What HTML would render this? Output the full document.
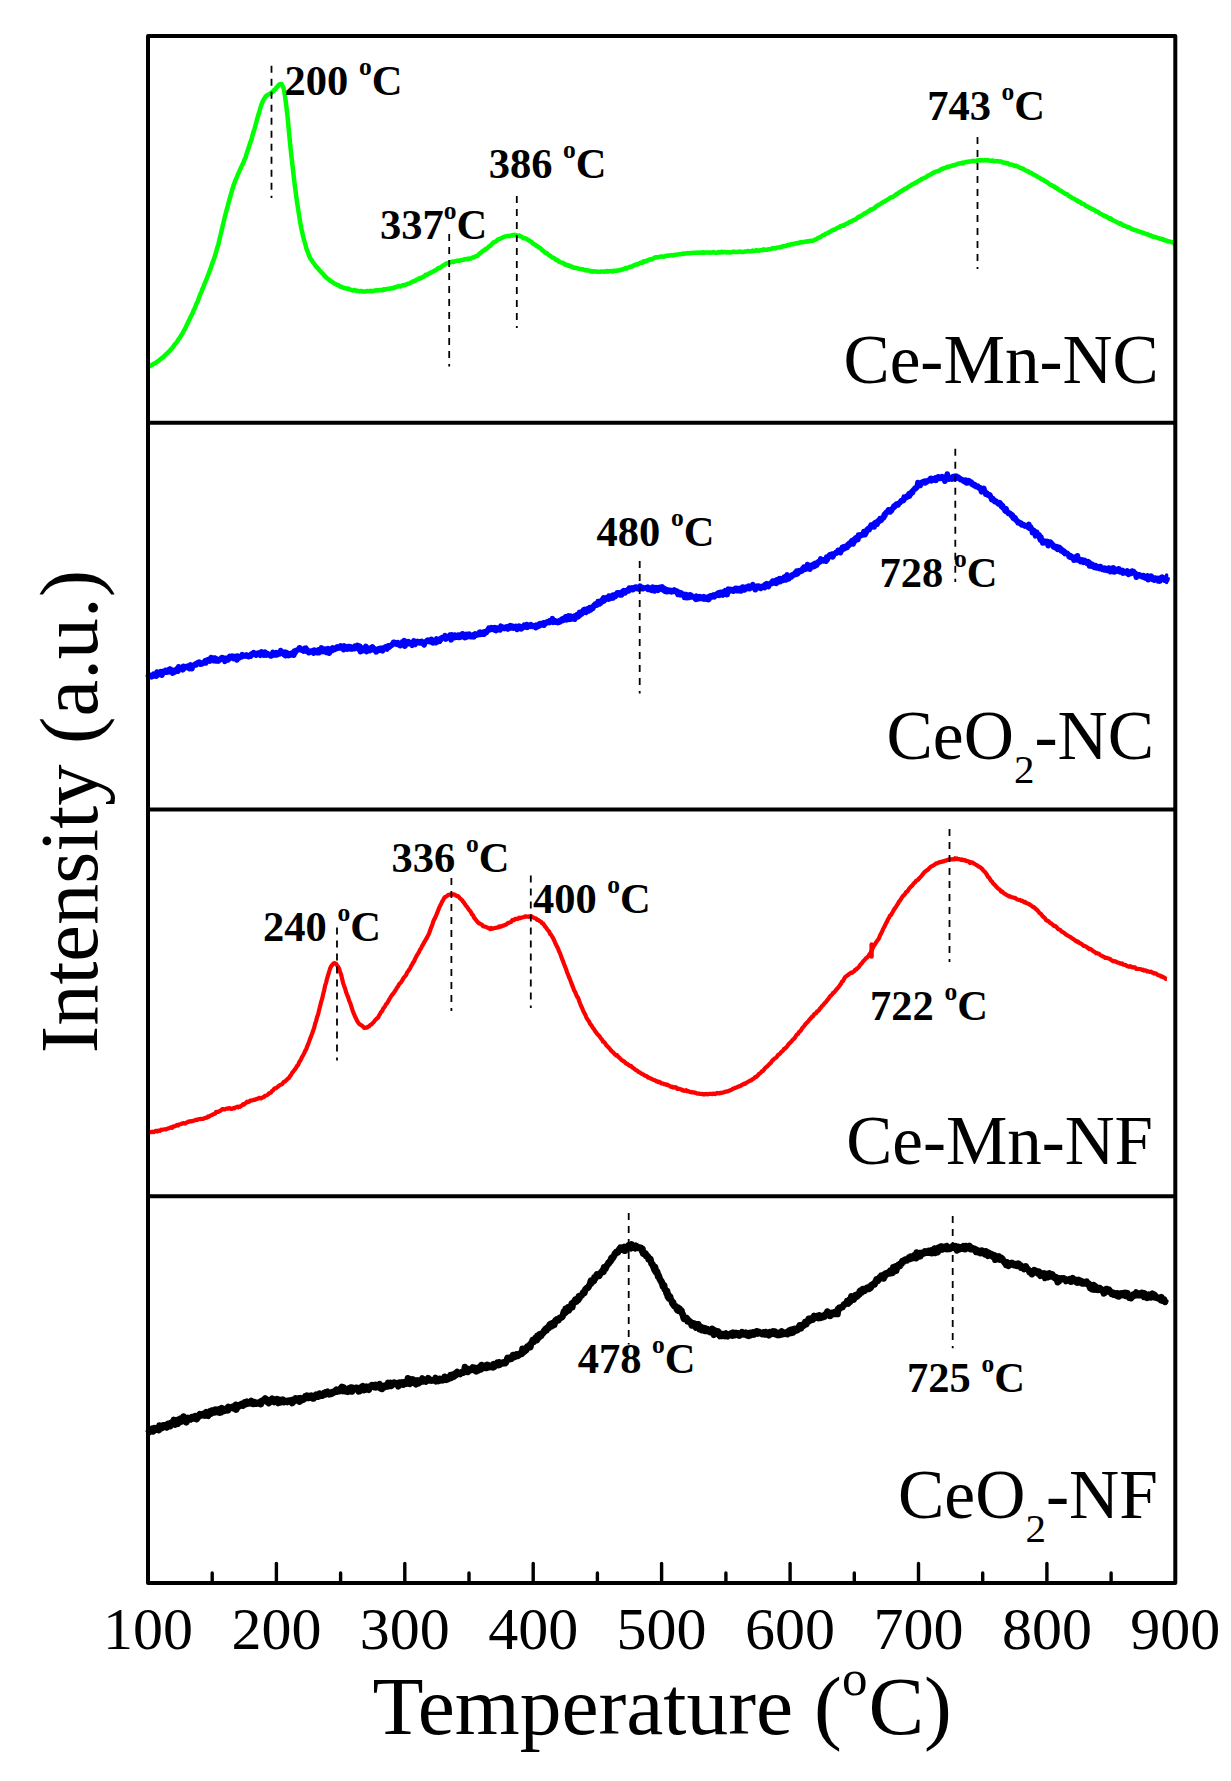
<!DOCTYPE html>
<html lang="en"><head><meta charset="utf-8"><title>H2-TPR profiles</title>
<style>html,body{margin:0;padding:0;background:#fff}body{width:1231px;height:1781px;overflow:hidden}svg{display:block}text{font-family:"Liberation Serif","Times New Roman",serif;fill:#000}.pk{font-weight:bold;font-size:42.5px}.big{font-size:69.5px}.tk{font-size:60px;text-anchor:middle}.ttl{font-size:83.5px}.d{stroke:#000;stroke-width:1.8;stroke-dasharray:7 6;fill:none}.c{fill:none;stroke-linejoin:round;stroke-linecap:butt}</style></head><body>
<svg width="1231" height="1781" viewBox="0 0 1231 1781">
<rect width="1231" height="1781" fill="#fff"/>
<polyline class="c" stroke="#00ff00" stroke-width="4.5" points="148.5,366.6 149.5,366.3 150.5,365.7 151.5,365.0 152.5,364.6 153.5,363.9 154.5,363.5 155.5,363.2 156.5,362.1 157.5,361.4 158.5,360.9 159.5,360.1 160.5,359.3 161.5,358.3 162.5,357.7 163.5,357.0 164.5,355.7 165.5,355.0 166.5,353.7 167.5,352.9 168.5,351.8 169.5,351.1 170.5,349.7 171.5,349.0 172.5,347.7 173.5,346.4 174.5,344.6 175.5,343.8 176.5,342.5 177.5,341.2 178.5,339.3 179.5,338.1 180.5,336.5 181.5,334.8 182.5,333.6 183.5,331.3 184.5,329.6 185.5,327.9 186.5,325.5 187.5,323.6 188.5,321.6 189.5,319.5 190.5,317.1 191.5,315.3 192.5,313.4 193.5,310.5 194.5,308.8 195.5,306.2 196.5,303.6 197.5,301.9 198.5,299.1 199.5,296.1 200.5,293.9 201.5,291.6 202.5,288.9 203.5,286.6 204.5,284.0 205.5,281.7 206.5,279.4 207.5,276.4 208.5,274.1 209.5,271.3 210.5,268.8 211.5,265.6 212.5,262.9 213.5,260.1 214.5,257.3 215.5,254.2 216.5,250.3 217.5,247.0 218.5,243.8 219.5,239.1 220.5,235.2 221.5,230.9 222.5,226.8 223.5,222.5 224.5,218.2 225.5,214.3 226.5,210.5 227.5,207.2 228.5,203.0 229.5,199.4 230.5,196.0 231.5,192.3 232.5,188.9 233.5,185.5 234.5,182.8 235.5,180.1 236.5,178.0 237.5,175.5 238.5,173.1 239.5,170.9 240.5,168.5 241.5,166.7 242.5,164.4 243.5,162.4 244.5,159.6 245.5,157.5 246.5,154.1 247.5,151.0 248.5,148.3 249.5,145.0 250.5,142.1 251.5,139.4 252.5,135.3 253.5,132.0 254.5,128.8 255.5,125.3 256.5,121.5 257.5,117.8 258.5,114.5 259.5,111.2 260.5,107.5 261.5,104.6 262.5,102.0 263.5,99.7 264.5,98.3 265.5,96.5 266.5,95.9 267.5,94.9 268.5,94.4 269.5,93.8 270.5,93.5 271.5,92.4 272.5,91.8 273.5,91.2 274.5,89.5 275.5,89.1 276.5,87.4 277.5,86.7 278.5,85.1 279.5,84.5 280.5,84.0 281.5,84.1 282.5,86.0 283.5,87.9 284.5,92.9 285.5,99.8 286.5,107.5 287.5,116.2 288.5,126.8 289.5,137.5 290.5,147.6 291.5,156.7 292.5,165.7 293.5,174.2 294.5,183.1 295.5,190.5 296.5,198.2 297.5,205.0 298.5,211.5 299.5,218.0 300.5,223.9 301.5,229.2 302.5,233.8 303.5,238.0 304.5,241.5 305.5,245.0 306.5,248.9 307.5,251.4 308.5,254.0 309.5,256.7 310.5,258.9 311.5,259.9 312.5,261.7 313.5,263.0 314.5,264.0 315.5,265.8 316.5,266.8 317.5,268.0 318.5,268.9 319.5,270.4 320.5,271.3 321.5,272.5 322.5,273.4 323.5,274.4 324.5,276.1 325.5,276.6 326.5,277.8 327.5,278.6 328.5,279.3 329.5,280.1 330.5,281.0 331.5,281.5 332.5,282.1 333.5,282.8 334.5,283.7 335.5,284.1 336.5,284.6 337.5,284.9 338.5,285.2 339.5,286.2 340.5,286.7 341.5,286.8 342.5,287.3 343.5,287.7 344.5,288.1 345.5,288.4 346.5,288.3 347.5,289.0 348.5,288.6 349.5,289.4 350.5,289.6 351.5,289.9 352.5,290.4 353.5,290.5 354.5,290.1 355.5,290.2 356.5,291.0 357.5,290.7 358.5,291.1 359.5,291.4 360.5,290.9 361.5,290.9 362.5,291.5 363.5,291.5 364.5,291.4 365.5,291.5 366.5,291.2 367.5,291.0 368.5,291.3 369.5,291.1 370.5,290.8 371.5,291.3 372.5,291.0 373.5,291.0 374.5,290.6 375.5,290.5 376.5,290.3 377.5,290.2 378.5,290.4 379.5,290.0 380.5,290.1 381.5,290.0 382.5,290.3 383.5,289.3 384.5,289.7 385.5,289.3 386.5,289.2 387.5,288.7 388.5,288.7 389.5,288.9 390.5,288.5 391.5,288.3 392.5,288.0 393.5,288.2 394.5,287.6 395.5,286.9 396.5,287.0 397.5,286.4 398.5,285.9 399.5,286.3 400.5,286.5 401.5,285.9 402.5,285.3 403.5,285.1 404.5,285.3 405.5,284.7 406.5,284.3 407.5,283.9 408.5,283.6 409.5,283.3 410.5,282.9 411.5,282.3 412.5,281.6 413.5,281.5 414.5,280.7 415.5,280.7 416.5,279.6 417.5,279.4 418.5,279.0 419.5,278.1 420.5,278.4 421.5,277.8 422.5,276.9 423.5,276.7 424.5,276.1 425.5,274.8 426.5,275.0 427.5,274.4 428.5,273.9 429.5,273.1 430.5,272.8 431.5,272.2 432.5,272.0 433.5,271.3 434.5,270.6 435.5,270.5 436.5,269.4 437.5,268.9 438.5,267.9 439.5,268.1 440.5,267.4 441.5,266.7 442.5,266.0 443.5,265.3 444.5,264.7 445.5,264.1 446.5,263.6 447.5,263.2 448.5,263.2 449.5,262.7 450.5,262.2 451.5,261.9 452.5,261.6 453.5,262.0 454.5,261.5 455.5,261.2 456.5,260.9 457.5,260.6 458.5,260.7 459.5,260.7 460.5,260.2 461.5,260.1 462.5,259.9 463.5,259.8 464.5,259.1 465.5,259.3 466.5,258.9 467.5,259.2 468.5,258.6 469.5,258.7 470.5,258.7 471.5,258.0 472.5,257.6 473.5,257.5 474.5,257.0 475.5,256.3 476.5,256.1 477.5,255.8 478.5,254.6 479.5,253.8 480.5,252.8 481.5,252.4 482.5,251.2 483.5,250.4 484.5,250.3 485.5,249.0 486.5,248.7 487.5,248.1 488.5,246.9 489.5,246.2 490.5,245.7 491.5,244.3 492.5,243.4 493.5,242.4 494.5,242.0 495.5,241.7 496.5,240.9 497.5,239.8 498.5,239.3 499.5,238.9 500.5,238.6 501.5,238.0 502.5,237.6 503.5,237.2 504.5,236.6 505.5,236.4 506.5,236.2 507.5,235.9 508.5,235.9 509.5,236.2 510.5,235.7 511.5,235.5 512.5,235.0 513.5,235.5 514.5,234.8 515.5,234.9 516.5,235.5 517.5,235.6 518.5,235.7 519.5,235.6 520.5,236.3 521.5,236.6 522.5,237.4 523.5,238.3 524.5,238.2 525.5,238.4 526.5,238.8 527.5,239.7 528.5,240.2 529.5,240.6 530.5,241.6 531.5,241.9 532.5,243.2 533.5,243.8 534.5,244.5 535.5,244.8 536.5,245.8 537.5,246.4 538.5,247.1 539.5,247.9 540.5,248.5 541.5,249.2 542.5,250.6 543.5,251.1 544.5,252.0 545.5,252.9 546.5,252.9 547.5,253.9 548.5,254.8 549.5,255.5 550.5,256.0 551.5,257.0 552.5,257.5 553.5,257.8 554.5,258.4 555.5,259.5 556.5,260.0 557.5,260.0 558.5,261.3 559.5,261.7 560.5,262.3 561.5,262.4 562.5,262.9 563.5,263.2 564.5,264.5 565.5,264.3 566.5,265.2 567.5,265.1 568.5,265.7 569.5,265.6 570.5,266.3 571.5,267.0 572.5,266.8 573.5,267.7 574.5,267.8 575.5,267.7 576.5,268.1 577.5,268.3 578.5,268.7 579.5,268.8 580.5,268.9 581.5,269.3 582.5,269.3 583.5,269.5 584.5,270.0 585.5,270.4 586.5,270.0 587.5,270.6 588.5,270.6 589.5,270.7 590.5,271.3 591.5,271.1 592.5,271.7 593.5,271.2 594.5,271.6 595.5,271.5 596.5,271.5 597.5,271.8 598.5,271.7 599.5,271.8 600.5,271.7 601.5,271.4 602.5,271.6 603.5,271.6 604.5,271.8 605.5,271.3 606.5,271.5 607.5,271.0 608.5,271.6 609.5,271.1 610.5,270.9 611.5,271.2 612.5,271.5 613.5,270.7 614.5,270.8 615.5,270.8 616.5,270.6 617.5,270.8 618.5,270.3 619.5,270.1 620.5,270.2 621.5,269.5 622.5,269.5 623.5,268.9 624.5,268.5 625.5,268.0 626.5,268.6 627.5,267.7 628.5,267.5 629.5,267.0 630.5,266.8 631.5,266.4 632.5,266.6 633.5,265.5 634.5,265.0 635.5,264.8 636.5,264.3 637.5,264.5 638.5,264.1 639.5,263.3 640.5,262.8 641.5,262.7 642.5,262.8 643.5,261.3 644.5,261.8 645.5,261.0 646.5,261.2 647.5,260.3 648.5,260.2 649.5,259.5 650.5,259.3 651.5,259.5 652.5,259.0 653.5,258.3 654.5,257.9 655.5,257.3 656.5,257.5 657.5,257.3 658.5,257.1 659.5,256.9 660.5,256.5 661.5,256.6 662.5,256.5 663.5,256.7 664.5,256.7 665.5,256.0 666.5,255.7 667.5,255.8 668.5,255.5 669.5,255.4 670.5,255.4 671.5,255.1 672.5,255.4 673.5,255.1 674.5,255.0 675.5,254.8 676.5,254.6 677.5,254.4 678.5,254.4 679.5,254.2 680.5,254.3 681.5,254.1 682.5,253.6 683.5,253.9 684.5,253.4 685.5,253.5 686.5,253.4 687.5,252.9 688.5,253.3 689.5,253.3 690.5,253.1 691.5,253.0 692.5,252.9 693.5,252.7 694.5,252.8 695.5,252.7 696.5,252.8 697.5,252.5 698.5,252.8 699.5,252.7 700.5,252.6 701.5,252.5 702.5,252.8 703.5,252.2 704.5,252.7 705.5,252.6 706.5,252.6 707.5,252.6 708.5,252.4 709.5,252.5 710.5,252.7 711.5,252.6 712.5,252.5 713.5,252.1 714.5,252.6 715.5,252.7 716.5,252.7 717.5,252.5 718.5,252.0 719.5,252.6 720.5,252.3 721.5,251.7 722.5,252.4 723.5,251.9 724.5,252.0 725.5,252.1 726.5,252.6 727.5,252.1 728.5,252.3 729.5,252.6 730.5,252.5 731.5,252.1 732.5,252.0 733.5,251.7 734.5,251.8 735.5,252.1 736.5,252.0 737.5,251.9 738.5,252.1 739.5,251.6 740.5,251.7 741.5,251.9 742.5,251.8 743.5,251.9 744.5,251.7 745.5,251.4 746.5,251.5 747.5,251.1 748.5,250.9 749.5,251.4 750.5,251.2 751.5,251.2 752.5,250.6 753.5,250.9 754.5,250.8 755.5,250.6 756.5,250.2 757.5,250.6 758.5,250.8 759.5,250.5 760.5,250.2 761.5,250.2 762.5,250.3 763.5,249.2 764.5,249.7 765.5,249.8 766.5,249.6 767.5,249.7 768.5,249.4 769.5,249.1 770.5,248.9 771.5,248.8 772.5,248.3 773.5,248.3 774.5,248.3 775.5,248.4 776.5,247.7 777.5,247.6 778.5,247.4 779.5,247.5 780.5,247.0 781.5,247.1 782.5,246.3 783.5,246.3 784.5,246.0 785.5,246.0 786.5,245.8 787.5,244.9 788.5,244.8 789.5,244.9 790.5,244.4 791.5,243.9 792.5,244.3 793.5,244.0 794.5,243.7 795.5,243.3 796.5,243.4 797.5,242.9 798.5,243.1 799.5,242.4 800.5,242.3 801.5,242.4 802.5,242.0 803.5,242.2 804.5,241.9 805.5,241.5 806.5,241.6 807.5,241.3 808.5,241.4 809.5,240.9 810.5,240.7 811.5,240.9 812.5,240.9 813.5,240.6 814.5,239.8 815.5,239.4 816.5,239.3 817.5,238.4 818.5,237.7 819.5,237.5 820.5,237.0 821.5,236.2 822.5,235.4 823.5,234.9 824.5,234.8 825.5,233.9 826.5,233.5 827.5,233.0 828.5,232.6 829.5,231.9 830.5,231.6 831.5,230.7 832.5,230.4 833.5,229.7 834.5,229.8 835.5,229.0 836.5,228.3 837.5,227.9 838.5,227.5 839.5,227.2 840.5,226.2 841.5,225.8 842.5,225.5 843.5,225.7 844.5,224.9 845.5,224.1 846.5,223.8 847.5,223.6 848.5,222.6 849.5,222.0 850.5,221.9 851.5,221.2 852.5,220.7 853.5,219.9 854.5,220.0 855.5,219.4 856.5,218.5 857.5,218.0 858.5,216.8 859.5,216.8 860.5,216.1 861.5,215.6 862.5,215.1 863.5,214.3 864.5,213.3 865.5,213.3 866.5,212.4 867.5,211.9 868.5,211.2 869.5,210.7 870.5,209.6 871.5,209.8 872.5,209.0 873.5,208.6 874.5,208.2 875.5,207.1 876.5,206.0 877.5,205.6 878.5,204.9 879.5,204.5 880.5,204.0 881.5,202.9 882.5,202.8 883.5,201.7 884.5,201.6 885.5,200.9 886.5,200.2 887.5,199.7 888.5,199.0 889.5,198.3 890.5,197.5 891.5,197.3 892.5,197.1 893.5,196.5 894.5,195.8 895.5,195.0 896.5,194.0 897.5,193.9 898.5,192.9 899.5,192.3 900.5,191.6 901.5,191.1 902.5,190.4 903.5,189.8 904.5,189.0 905.5,188.5 906.5,188.6 907.5,187.4 908.5,186.8 909.5,186.3 910.5,185.8 911.5,184.7 912.5,184.4 913.5,184.1 914.5,183.3 915.5,182.7 916.5,182.5 917.5,181.4 918.5,181.0 919.5,180.3 920.5,180.3 921.5,178.9 922.5,178.7 923.5,178.2 924.5,177.9 925.5,177.4 926.5,177.0 927.5,175.7 928.5,175.8 929.5,175.0 930.5,174.4 931.5,174.1 932.5,173.3 933.5,172.5 934.5,172.4 935.5,171.6 936.5,171.4 937.5,171.2 938.5,170.7 939.5,170.6 940.5,169.7 941.5,169.0 942.5,168.8 943.5,168.4 944.5,167.9 945.5,168.0 946.5,167.3 947.5,166.7 948.5,167.0 949.5,166.4 950.5,166.2 951.5,165.8 952.5,165.6 953.5,165.2 954.5,165.2 955.5,164.7 956.5,164.4 957.5,164.1 958.5,163.4 959.5,163.5 960.5,163.3 961.5,163.2 962.5,162.6 963.5,163.2 964.5,162.6 965.5,162.1 966.5,161.8 967.5,161.9 968.5,161.8 969.5,161.5 970.5,161.5 971.5,161.2 972.5,161.3 973.5,160.8 974.5,160.9 975.5,161.0 976.5,161.3 977.5,160.3 978.5,160.4 979.5,160.2 980.5,160.6 981.5,160.1 982.5,160.3 983.5,160.4 984.5,160.2 985.5,160.2 986.5,160.4 987.5,160.0 988.5,160.3 989.5,160.6 990.5,160.8 991.5,160.8 992.5,160.5 993.5,160.9 994.5,161.3 995.5,161.3 996.5,161.2 997.5,161.1 998.5,161.6 999.5,161.4 1000.5,161.4 1001.5,161.7 1002.5,162.4 1003.5,162.4 1004.5,162.8 1005.5,162.7 1006.5,163.3 1007.5,163.2 1008.5,163.6 1009.5,164.5 1010.5,164.4 1011.5,164.4 1012.5,164.9 1013.5,165.3 1014.5,165.9 1015.5,165.8 1016.5,165.8 1017.5,166.5 1018.5,167.0 1019.5,167.4 1020.5,168.1 1021.5,168.2 1022.5,168.8 1023.5,168.8 1024.5,169.8 1025.5,170.6 1026.5,170.7 1027.5,171.1 1028.5,171.6 1029.5,172.6 1030.5,172.5 1031.5,173.2 1032.5,173.9 1033.5,174.6 1034.5,174.9 1035.5,175.6 1036.5,176.1 1037.5,176.8 1038.5,177.3 1039.5,177.6 1040.5,178.5 1041.5,179.3 1042.5,179.4 1043.5,180.1 1044.5,180.9 1045.5,181.1 1046.5,182.0 1047.5,182.3 1048.5,183.4 1049.5,184.3 1050.5,184.8 1051.5,184.9 1052.5,185.8 1053.5,186.2 1054.5,186.8 1055.5,187.8 1056.5,187.7 1057.5,189.0 1058.5,189.3 1059.5,190.3 1060.5,190.7 1061.5,191.1 1062.5,191.9 1063.5,192.7 1064.5,193.1 1065.5,193.9 1066.5,194.2 1067.5,194.5 1068.5,195.8 1069.5,196.4 1070.5,196.8 1071.5,197.4 1072.5,198.2 1073.5,198.5 1074.5,199.0 1075.5,199.7 1076.5,200.6 1077.5,200.5 1078.5,201.7 1079.5,201.8 1080.5,202.3 1081.5,203.5 1082.5,203.7 1083.5,203.9 1084.5,204.7 1085.5,205.6 1086.5,206.2 1087.5,206.4 1088.5,207.1 1089.5,207.8 1090.5,208.0 1091.5,208.8 1092.5,209.2 1093.5,209.6 1094.5,210.2 1095.5,210.9 1096.5,211.4 1097.5,211.8 1098.5,212.3 1099.5,213.3 1100.5,213.6 1101.5,214.3 1102.5,214.9 1103.5,215.2 1104.5,216.2 1105.5,215.9 1106.5,216.9 1107.5,217.1 1108.5,218.2 1109.5,218.7 1110.5,218.3 1111.5,219.1 1112.5,220.0 1113.5,220.6 1114.5,221.1 1115.5,221.4 1116.5,222.0 1117.5,222.6 1118.5,222.9 1119.5,223.7 1120.5,223.3 1121.5,224.5 1122.5,224.6 1123.5,225.6 1124.5,225.7 1125.5,226.0 1126.5,226.8 1127.5,226.9 1128.5,227.3 1129.5,227.5 1130.5,228.3 1131.5,228.8 1132.5,229.4 1133.5,229.4 1134.5,230.1 1135.5,230.2 1136.5,230.6 1137.5,231.1 1138.5,231.6 1139.5,231.6 1140.5,231.9 1141.5,232.3 1142.5,232.7 1143.5,232.8 1144.5,233.6 1145.5,233.6 1146.5,234.2 1147.5,234.2 1148.5,234.8 1149.5,235.2 1150.5,235.3 1151.5,236.3 1152.5,236.2 1153.5,236.9 1154.5,237.1 1155.5,237.0 1156.5,237.4 1157.5,237.9 1158.5,238.2 1159.5,238.5 1160.5,238.8 1161.5,238.7 1162.5,239.5 1163.5,239.3 1164.5,240.3 1165.5,240.3 1166.5,240.7 1167.5,241.1 1168.5,241.6 1169.5,241.5 1170.5,241.7 1171.5,242.2 1172.5,242.3 1173.5,242.9 1174.5,243.8 1175.0,243.3"/>
<polyline class="c" stroke="#0000ff" stroke-width="5.6" points="148.1,677.1 148.7,674.7 149.3,676.3 149.9,675.5 150.5,675.4 151.1,675.6 151.7,676.8 152.3,675.1 152.9,674.9 153.5,674.2 154.1,675.9 154.7,674.9 155.3,675.8 155.9,674.7 156.5,676.2 157.1,672.0 157.7,673.5 158.3,674.7 158.9,673.2 159.5,672.6 160.1,673.0 160.7,671.7 161.3,672.9 161.9,675.2 162.5,673.7 163.1,671.2 163.7,671.2 164.3,671.2 164.9,672.3 165.5,670.3 166.1,670.4 166.7,672.1 167.3,672.1 167.9,670.8 168.5,669.9 169.1,669.4 169.7,670.6 170.3,669.0 170.9,672.0 171.5,670.7 172.1,672.0 172.7,673.1 173.3,672.6 173.9,670.3 174.5,672.1 175.1,671.9 175.7,670.1 176.3,669.5 176.9,670.0 177.5,668.3 178.1,671.2 178.7,666.7 179.3,668.0 179.9,668.8 180.5,668.9 181.1,668.9 181.7,669.0 182.3,668.5 182.9,669.8 183.5,666.3 184.1,668.5 184.7,667.4 185.3,667.7 185.9,667.4 186.5,666.5 187.1,666.3 187.7,667.4 188.3,666.7 188.9,665.9 189.5,668.6 190.1,668.6 190.7,664.9 191.3,666.8 191.9,668.6 192.5,666.7 193.1,666.2 193.7,665.7 194.3,664.9 194.9,664.5 195.5,663.9 196.1,664.9 196.7,663.4 197.3,663.4 197.9,662.6 198.5,663.3 199.1,662.1 199.7,662.7 200.3,664.1 200.9,663.4 201.5,664.0 202.1,663.8 202.7,663.1 203.3,662.6 203.9,662.3 204.5,662.8 205.1,660.8 205.7,663.0 206.3,661.7 206.9,660.2 207.5,660.0 208.1,659.6 208.7,660.2 209.3,659.2 209.9,661.1 210.5,659.3 211.1,657.7 211.7,659.1 212.3,657.8 212.9,659.7 213.5,660.6 214.1,660.0 214.7,658.0 215.3,658.7 215.9,661.0 216.5,659.7 217.1,659.1 217.7,659.9 218.3,661.1 218.9,660.4 219.5,659.5 220.1,659.5 220.7,659.4 221.3,658.2 221.9,657.6 222.5,658.6 223.1,657.9 223.7,658.9 224.3,658.9 224.9,661.3 225.5,658.3 226.1,659.0 226.7,659.0 227.3,659.3 227.9,659.9 228.5,657.7 229.1,657.5 229.7,656.3 230.3,656.9 230.9,658.0 231.5,657.3 232.1,656.1 232.7,656.9 233.3,657.5 233.9,658.6 234.5,657.3 235.1,658.1 235.7,656.3 236.3,657.1 236.9,660.0 237.5,656.1 238.1,657.9 238.7,658.2 239.3,657.3 239.9,656.7 240.5,657.1 241.1,657.0 241.7,656.8 242.3,654.6 242.9,656.2 243.5,655.6 244.1,655.3 244.7,655.8 245.3,656.1 245.9,656.0 246.5,655.0 247.1,655.7 247.7,656.4 248.3,656.6 248.9,656.6 249.5,655.3 250.1,655.3 250.7,656.0 251.3,654.1 251.9,654.9 252.5,654.5 253.1,654.5 253.7,652.7 254.3,653.3 254.9,654.2 255.5,654.7 256.1,655.1 256.7,653.9 257.3,653.7 257.9,653.1 258.5,654.0 259.1,653.4 259.7,654.3 260.3,655.2 260.9,653.8 261.5,652.0 262.1,652.7 262.7,652.3 263.3,652.7 263.9,655.2 264.5,654.1 265.1,652.1 265.7,654.5 266.3,655.1 266.9,653.9 267.5,653.6 268.1,654.0 268.7,654.4 269.3,654.9 269.9,655.5 270.5,655.9 271.1,655.9 271.7,655.8 272.3,654.6 272.9,652.4 273.5,653.8 274.1,654.3 274.7,653.7 275.3,654.9 275.9,653.4 276.5,652.6 277.1,654.8 277.7,654.2 278.3,653.4 278.9,653.9 279.5,654.0 280.1,653.2 280.7,650.5 281.3,652.3 281.9,652.4 282.5,652.2 283.1,653.0 283.7,654.3 284.3,652.8 284.9,652.3 285.5,655.7 286.1,653.3 286.7,652.6 287.3,654.4 287.9,654.6 288.5,653.9 289.1,655.5 289.7,654.0 290.3,653.6 290.9,654.3 291.5,654.7 292.1,653.0 292.7,653.4 293.3,652.5 293.9,655.2 294.5,651.1 295.1,652.8 295.7,650.9 296.3,650.3 296.9,650.4 297.5,649.9 298.1,650.0 298.7,649.2 299.3,647.9 299.9,647.9 300.5,649.3 301.1,649.4 301.7,650.1 302.3,649.4 302.9,650.5 303.5,651.1 304.1,649.8 304.7,648.3 305.3,648.7 305.9,648.3 306.5,651.3 307.1,649.7 307.7,651.8 308.3,651.2 308.9,652.7 309.5,652.3 310.1,651.4 310.7,651.2 311.3,652.0 311.9,652.0 312.5,650.8 313.1,651.4 313.7,653.2 314.3,650.0 314.9,651.9 315.5,650.6 316.1,652.0 316.7,652.5 317.3,651.8 317.9,652.5 318.5,649.9 319.1,652.7 319.7,650.6 320.3,651.6 320.9,651.0 321.5,647.9 322.1,649.6 322.7,650.5 323.3,651.6 323.9,650.6 324.5,650.8 325.1,649.2 325.7,652.0 326.3,652.4 326.9,650.9 327.5,650.4 328.1,648.7 328.7,651.5 329.3,653.2 329.9,650.7 330.5,651.3 331.1,650.4 331.7,648.6 332.3,650.5 332.9,647.9 333.5,648.8 334.1,649.2 334.7,649.4 335.3,649.1 335.9,648.9 336.5,647.5 337.1,647.0 337.7,648.3 338.3,647.6 338.9,646.9 339.5,646.9 340.1,647.8 340.7,646.0 341.3,646.5 341.9,646.7 342.5,647.8 343.1,648.1 343.7,649.6 344.3,645.9 344.9,646.4 345.5,648.2 346.1,647.1 346.7,647.3 347.3,649.1 347.9,647.4 348.5,646.6 349.1,646.5 349.7,648.6 350.3,648.9 350.9,646.9 351.5,647.4 352.1,648.8 352.7,648.9 353.3,647.6 353.9,648.7 354.5,648.7 355.1,646.1 355.7,647.5 356.3,648.1 356.9,647.1 357.5,645.4 358.1,647.3 358.7,648.6 359.3,650.0 359.9,646.2 360.5,651.7 361.1,648.3 361.7,650.6 362.3,650.9 362.9,650.2 363.5,649.2 364.1,648.0 364.7,649.8 365.3,648.3 365.9,646.4 366.5,651.6 367.1,649.5 367.7,650.3 368.3,648.1 368.9,650.5 369.5,650.8 370.1,650.5 370.7,649.0 371.3,647.7 371.9,648.9 372.5,646.9 373.1,648.0 373.7,650.0 374.3,649.0 374.9,649.6 375.5,649.4 376.1,651.9 376.7,651.3 377.3,649.8 377.9,650.9 378.5,648.8 379.1,649.1 379.7,650.3 380.3,648.3 380.9,649.8 381.5,648.5 382.1,649.6 382.7,650.7 383.3,648.1 383.9,648.9 384.5,647.6 385.1,647.1 385.7,646.8 386.3,648.7 386.9,649.0 387.5,647.1 388.1,645.8 388.7,647.4 389.3,645.8 389.9,646.5 390.5,645.8 391.1,645.5 391.7,645.4 392.3,644.1 392.9,643.9 393.5,642.4 394.1,643.2 394.7,642.4 395.3,643.8 395.9,642.9 396.5,643.9 397.1,644.4 397.7,642.7 398.3,643.4 398.9,643.1 399.5,644.9 400.1,645.6 400.7,644.3 401.3,642.8 401.9,644.7 402.5,641.8 403.1,644.9 403.7,642.6 404.3,640.6 404.9,646.1 405.5,645.2 406.1,642.7 406.7,644.0 407.3,643.5 407.9,643.5 408.5,641.7 409.1,642.7 409.7,643.6 410.3,643.4 410.9,644.1 411.5,643.0 412.1,645.3 412.7,642.0 413.3,643.2 413.9,640.9 414.5,641.6 415.1,644.4 415.7,641.8 416.3,643.2 416.9,642.4 417.5,641.4 418.1,642.0 418.7,641.9 419.3,641.8 419.9,643.0 420.5,642.9 421.1,641.6 421.7,641.3 422.3,642.6 422.9,642.3 423.5,643.6 424.1,644.9 424.7,643.1 425.3,642.2 425.9,641.9 426.5,640.9 427.1,640.6 427.7,640.1 428.3,640.7 428.9,640.4 429.5,641.6 430.1,640.6 430.7,640.7 431.3,639.4 431.9,642.3 432.5,641.3 433.1,642.8 433.7,641.5 434.3,642.1 434.9,640.5 435.5,641.1 436.1,642.6 436.7,638.9 437.3,641.2 437.9,641.6 438.5,640.2 439.1,640.6 439.7,641.1 440.3,638.8 440.9,639.5 441.5,638.0 442.1,637.7 442.7,637.5 443.3,637.9 443.9,637.7 444.5,637.6 445.1,635.6 445.7,639.1 446.3,638.2 446.9,637.9 447.5,636.8 448.1,636.8 448.7,637.1 449.3,637.3 449.9,635.2 450.5,637.7 451.1,639.9 451.7,634.9 452.3,637.5 452.9,636.7 453.5,636.4 454.1,637.7 454.7,635.1 455.3,636.3 455.9,637.4 456.5,635.7 457.1,635.5 457.7,635.8 458.3,635.3 458.9,637.5 459.5,635.4 460.1,637.1 460.7,634.9 461.3,636.8 461.9,636.2 462.5,633.8 463.1,636.6 463.7,635.7 464.3,635.9 464.9,637.6 465.5,634.7 466.1,634.5 466.7,637.1 467.3,635.4 467.9,636.6 468.5,635.7 469.1,634.2 469.7,634.9 470.3,636.6 470.9,636.7 471.5,635.7 472.1,635.4 472.7,635.0 473.3,634.7 473.9,636.9 474.5,635.2 475.1,633.8 475.7,634.3 476.3,635.1 476.9,635.1 477.5,634.5 478.1,634.1 478.7,634.5 479.3,632.4 479.9,632.2 480.5,634.3 481.1,632.5 481.7,633.5 482.3,634.1 482.9,633.4 483.5,632.2 484.1,634.2 484.7,632.6 485.3,631.7 485.9,632.7 486.5,632.4 487.1,630.6 487.7,630.8 488.3,630.2 488.9,628.1 489.5,629.9 490.1,629.7 490.7,629.1 491.3,627.6 491.9,629.0 492.5,629.1 493.1,629.3 493.7,628.0 494.3,629.8 494.9,627.7 495.5,628.7 496.1,630.6 496.7,628.2 497.3,628.0 497.9,629.7 498.5,628.3 499.1,628.3 499.7,628.8 500.3,629.8 500.9,626.2 501.5,627.3 502.1,627.3 502.7,627.2 503.3,627.3 503.9,627.4 504.5,628.5 505.1,627.3 505.7,628.1 506.3,628.2 506.9,626.9 507.5,627.5 508.1,629.0 508.7,627.5 509.3,626.2 509.9,626.7 510.5,625.8 511.1,626.7 511.7,627.7 512.3,626.1 512.9,626.8 513.5,628.2 514.1,626.7 514.7,627.4 515.3,626.4 515.9,626.3 516.5,626.8 517.1,629.4 517.7,626.5 518.3,626.4 518.9,626.2 519.5,626.9 520.1,627.6 520.7,626.8 521.3,628.9 521.9,627.0 522.5,627.9 523.1,626.9 523.7,627.3 524.3,625.2 524.9,626.3 525.5,626.6 526.1,626.5 526.7,624.5 527.3,627.3 527.9,626.2 528.5,626.0 529.1,626.1 529.7,626.0 530.3,626.3 530.9,624.7 531.5,625.3 532.1,626.4 532.7,626.4 533.3,625.8 533.9,625.8 534.5,625.6 535.1,626.3 535.7,627.6 536.3,625.1 536.9,627.1 537.5,626.6 538.1,625.0 538.7,626.3 539.3,623.8 539.9,623.6 540.5,623.9 541.1,624.9 541.7,624.7 542.3,624.7 542.9,625.0 543.5,622.8 544.1,625.2 544.7,623.2 545.3,623.3 545.9,623.4 546.5,622.0 547.1,622.0 547.7,621.7 548.3,622.4 548.9,622.5 549.5,622.6 550.1,620.5 550.7,620.8 551.3,620.4 551.9,621.6 552.5,618.7 553.1,622.3 553.7,620.6 554.3,620.6 554.9,621.3 555.5,622.1 556.1,621.2 556.7,621.9 557.3,621.5 557.9,622.6 558.5,622.5 559.1,620.9 559.7,622.1 560.3,621.0 560.9,620.7 561.5,619.5 562.1,619.9 562.7,620.5 563.3,618.6 563.9,620.0 564.5,619.8 565.1,619.8 565.7,616.8 566.3,618.8 566.9,619.7 567.5,618.4 568.1,619.1 568.7,615.9 569.3,619.3 569.9,618.0 570.5,619.2 571.1,616.2 571.7,618.9 572.3,617.7 572.9,618.4 573.5,616.6 574.1,616.9 574.7,619.2 575.3,615.9 575.9,616.0 576.5,616.1 577.1,614.7 577.7,616.9 578.3,616.8 578.9,613.8 579.5,612.5 580.1,615.1 580.7,614.4 581.3,613.4 581.9,613.7 582.5,611.4 583.1,611.4 583.7,609.8 584.3,609.5 584.9,611.5 585.5,609.7 586.1,612.4 586.7,609.9 587.3,608.9 587.9,610.1 588.5,610.9 589.1,609.4 589.7,607.7 590.3,609.3 590.9,609.7 591.5,607.4 592.1,607.0 592.7,608.4 593.3,607.2 593.9,605.2 594.5,605.2 595.1,604.3 595.7,604.9 596.3,604.5 596.9,605.1 597.5,604.4 598.1,601.6 598.7,603.4 599.3,603.9 599.9,603.3 600.5,603.4 601.1,601.1 601.7,600.1 602.3,601.6 602.9,599.2 603.5,597.9 604.1,600.9 604.7,598.8 605.3,599.0 605.9,597.7 606.5,597.8 607.1,598.0 607.7,598.8 608.3,599.0 608.9,596.1 609.5,598.7 610.1,596.4 610.7,596.5 611.3,598.2 611.9,597.2 612.5,595.3 613.1,598.0 613.7,595.2 614.3,596.0 614.9,595.3 615.5,596.3 616.1,594.2 616.7,595.0 617.3,592.9 617.9,594.4 618.5,592.8 619.1,592.7 619.7,594.8 620.3,593.6 620.9,593.1 621.5,595.0 622.1,593.0 622.7,591.4 623.3,592.9 623.9,590.7 624.5,592.9 625.1,592.9 625.7,590.8 626.3,590.7 626.9,591.0 627.5,590.5 628.1,589.3 628.7,590.8 629.3,588.1 629.9,589.8 630.5,589.5 631.1,589.1 631.7,589.4 632.3,588.0 632.9,589.7 633.5,589.0 634.1,588.3 634.7,587.4 635.3,587.2 635.9,588.4 636.5,587.1 637.1,588.0 637.7,588.8 638.3,588.8 638.9,589.1 639.5,587.1 640.1,586.2 640.7,588.5 641.3,587.9 641.9,588.6 642.5,587.5 643.1,588.5 643.7,588.0 644.3,588.0 644.9,587.9 645.5,587.8 646.1,587.9 646.7,588.0 647.3,588.9 647.9,587.1 648.5,589.5 649.1,588.1 649.7,589.3 650.3,588.2 650.9,588.2 651.5,590.3 652.1,587.9 652.7,587.1 653.3,588.0 653.9,588.7 654.5,591.0 655.1,589.1 655.7,589.6 656.3,587.6 656.9,588.8 657.5,589.4 658.1,590.2 658.7,587.6 659.3,589.3 659.9,588.9 660.5,587.5 661.1,588.7 661.7,588.7 662.3,586.9 662.9,589.8 663.5,590.2 664.1,589.3 664.7,588.6 665.3,591.5 665.9,590.5 666.5,591.2 667.1,591.6 667.7,589.9 668.3,591.4 668.9,590.5 669.5,590.6 670.1,590.3 670.7,590.5 671.3,591.9 671.9,590.9 672.5,590.7 673.1,590.6 673.7,591.3 674.3,590.0 674.9,590.8 675.5,591.4 676.1,591.0 676.7,591.6 677.3,591.4 677.9,594.5 678.5,593.7 679.1,593.0 679.7,592.6 680.3,594.9 680.9,593.4 681.5,593.2 682.1,593.9 682.7,594.0 683.3,595.4 683.9,594.7 684.5,597.3 685.1,594.5 685.7,596.1 686.3,594.6 686.9,597.7 687.5,595.6 688.1,596.3 688.7,596.9 689.3,597.3 689.9,594.9 690.5,596.2 691.1,595.3 691.7,596.9 692.3,596.7 692.9,596.8 693.5,596.8 694.1,597.5 694.7,597.3 695.3,598.7 695.9,599.3 696.5,596.2 697.1,598.0 697.7,597.9 698.3,598.7 698.9,596.9 699.5,597.5 700.1,596.6 700.7,598.5 701.3,598.3 701.9,597.7 702.5,598.5 703.1,597.7 703.7,596.7 704.3,599.1 704.9,598.6 705.5,598.1 706.1,599.2 706.7,599.2 707.3,597.2 707.9,597.0 708.5,599.6 709.1,598.9 709.7,596.3 710.3,595.9 710.9,596.3 711.5,596.3 712.1,595.6 712.7,596.8 713.3,595.3 713.9,594.9 714.5,596.8 715.1,595.2 715.7,595.4 716.3,595.4 716.9,595.0 717.5,593.4 718.1,593.9 718.7,593.0 719.3,595.4 719.9,594.3 720.5,592.3 721.1,593.2 721.7,593.9 722.3,593.7 722.9,595.0 723.5,593.8 724.1,591.6 724.7,592.1 725.3,590.7 725.9,592.3 726.5,592.0 727.1,594.6 727.7,591.6 728.3,589.2 728.9,590.5 729.5,591.0 730.1,589.5 730.7,589.4 731.3,589.9 731.9,590.6 732.5,590.2 733.1,589.6 733.7,591.1 734.3,589.9 734.9,589.8 735.5,588.5 736.1,589.2 736.7,590.6 737.3,588.4 737.9,590.0 738.5,590.5 739.1,589.2 739.7,589.8 740.3,588.5 740.9,591.0 741.5,590.4 742.1,589.4 742.7,587.0 743.3,587.3 743.9,589.0 744.5,589.9 745.1,588.1 745.7,589.1 746.3,587.0 746.9,587.5 747.5,587.7 748.1,588.1 748.7,586.1 749.3,588.7 749.9,588.4 750.5,586.2 751.1,585.9 751.7,587.6 752.3,586.8 752.9,584.7 753.5,587.8 754.1,587.1 754.7,586.4 755.3,589.7 755.9,587.4 756.5,586.5 757.1,587.7 757.7,586.1 758.3,586.1 758.9,587.5 759.5,586.4 760.1,586.6 760.7,588.5 761.3,587.8 761.9,587.3 762.5,586.3 763.1,586.5 763.7,587.4 764.3,585.7 764.9,587.6 765.5,584.3 766.1,584.9 766.7,583.8 767.3,585.0 767.9,585.9 768.5,586.5 769.1,584.2 769.7,584.5 770.3,583.7 770.9,583.4 771.5,582.4 772.1,583.3 772.7,581.0 773.3,583.0 773.9,582.8 774.5,581.5 775.1,580.8 775.7,580.4 776.3,583.4 776.9,579.9 777.5,582.4 778.1,581.2 778.7,579.9 779.3,578.7 779.9,581.1 780.5,581.5 781.1,578.7 781.7,578.8 782.3,579.7 782.9,578.9 783.5,580.3 784.1,577.4 784.7,578.4 785.3,576.6 785.9,580.0 786.5,576.7 787.1,575.0 787.7,576.9 788.3,576.8 788.9,578.8 789.5,576.4 790.1,576.3 790.7,576.1 791.3,576.9 791.9,575.1 792.5,575.9 793.1,575.4 793.7,574.1 794.3,574.2 794.9,573.4 795.5,572.4 796.1,574.4 796.7,571.2 797.3,573.8 797.9,573.4 798.5,572.0 799.1,570.6 799.7,570.8 800.3,571.5 800.9,571.3 801.5,570.5 802.1,570.8 802.7,568.5 803.3,568.9 803.9,567.0 804.5,569.5 805.1,568.4 805.7,567.5 806.3,568.9 806.9,568.3 807.5,564.6 808.1,567.8 808.7,566.0 809.3,568.2 809.9,569.1 810.5,566.0 811.1,566.0 811.7,565.3 812.3,565.9 812.9,566.3 813.5,566.5 814.1,564.0 814.7,566.2 815.3,563.3 815.9,564.2 816.5,565.2 817.1,564.4 817.7,562.4 818.3,561.8 818.9,561.3 819.5,561.1 820.1,561.8 820.7,558.9 821.3,560.6 821.9,560.3 822.5,560.1 823.1,559.8 823.7,560.9 824.3,559.8 824.9,560.3 825.5,560.0 826.1,561.2 826.7,557.0 827.3,559.7 827.9,557.7 828.5,557.1 829.1,556.0 829.7,554.8 830.3,555.7 830.9,555.2 831.5,556.3 832.1,554.0 832.7,557.0 833.3,555.6 833.9,554.7 834.5,553.8 835.1,553.4 835.7,552.6 836.3,553.0 836.9,552.9 837.5,552.0 838.1,550.3 838.7,551.4 839.3,550.5 839.9,551.3 840.5,552.6 841.1,551.0 841.7,549.2 842.3,547.5 842.9,547.8 843.5,546.9 844.1,548.9 844.7,546.8 845.3,546.9 845.9,546.1 846.5,546.5 847.1,547.6 847.7,544.8 848.3,544.5 848.9,543.7 849.5,545.1 850.1,542.9 850.7,542.4 851.3,541.4 851.9,540.7 852.5,541.9 853.1,544.0 853.7,539.9 854.3,541.7 854.9,540.0 855.5,538.1 856.1,538.7 856.7,538.3 857.3,537.2 857.9,539.6 858.5,535.0 859.1,536.8 859.7,536.3 860.3,534.9 860.9,535.4 861.5,535.4 862.1,534.6 862.7,534.9 863.3,534.6 863.9,531.6 864.5,534.5 865.1,534.7 865.7,533.3 866.3,532.5 866.9,529.8 867.5,530.2 868.1,528.6 868.7,528.1 869.3,529.6 869.9,527.4 870.5,527.6 871.1,525.0 871.7,526.6 872.3,525.9 872.9,524.8 873.5,524.7 874.1,527.0 874.7,523.1 875.3,522.8 875.9,522.3 876.5,523.9 877.1,524.2 877.7,522.3 878.3,520.8 878.9,520.1 879.5,521.2 880.1,518.6 880.7,520.6 881.3,520.3 881.9,518.3 882.5,517.8 883.1,517.4 883.7,517.8 884.3,514.5 884.9,515.8 885.5,513.5 886.1,512.5 886.7,512.6 887.3,511.7 887.9,510.8 888.5,509.8 889.1,509.8 889.7,511.8 890.3,512.0 890.9,510.6 891.5,510.7 892.1,508.6 892.7,508.4 893.3,508.1 893.9,506.1 894.5,505.6 895.1,506.3 895.7,505.6 896.3,504.1 896.9,505.0 897.5,503.9 898.1,504.8 898.7,503.4 899.3,502.9 899.9,502.7 900.5,501.7 901.1,500.8 901.7,500.5 902.3,500.9 902.9,500.0 903.5,500.4 904.1,497.2 904.7,497.8 905.3,497.5 905.9,497.8 906.5,496.4 907.1,495.9 907.7,496.7 908.3,495.8 908.9,494.0 909.5,496.1 910.1,494.8 910.7,493.0 911.3,493.6 911.9,491.5 912.5,492.8 913.1,490.7 913.7,489.6 914.3,489.4 914.9,488.2 915.5,488.8 916.1,488.0 916.7,487.4 917.3,486.2 917.9,482.5 918.5,485.9 919.1,483.3 919.7,484.9 920.3,485.4 920.9,483.7 921.5,482.4 922.1,482.2 922.7,482.2 923.3,481.5 923.9,481.5 924.5,481.1 925.1,483.0 925.7,481.5 926.3,482.3 926.9,480.9 927.5,481.0 928.1,480.4 928.7,480.8 929.3,480.8 929.9,479.7 930.5,478.6 931.1,478.3 931.7,480.8 932.3,478.8 932.9,478.7 933.5,480.0 934.1,479.6 934.7,479.0 935.3,477.9 935.9,480.4 936.5,478.8 937.1,478.7 937.7,477.8 938.3,476.7 938.9,476.7 939.5,478.3 940.1,478.5 940.7,478.0 941.3,477.2 941.9,476.7 942.5,477.9 943.1,476.9 943.7,479.2 944.3,479.5 944.9,481.2 945.5,479.0 946.1,477.4 946.7,477.2 947.3,474.1 947.9,477.1 948.5,477.8 949.1,479.1 949.7,478.8 950.3,478.6 950.9,478.1 951.5,478.3 952.1,479.1 952.7,476.9 953.3,477.4 953.9,476.4 954.5,478.9 955.1,478.7 955.7,478.3 956.3,476.2 956.9,477.7 957.5,477.3 958.1,478.0 958.7,477.5 959.3,478.3 959.9,478.2 960.5,479.7 961.1,479.5 961.7,479.4 962.3,479.7 962.9,479.7 963.5,481.1 964.1,480.6 964.7,481.6 965.3,481.0 965.9,480.1 966.5,482.9 967.1,480.9 967.7,482.9 968.3,482.7 968.9,480.7 969.5,481.7 970.1,481.9 970.7,482.0 971.3,482.1 971.9,484.2 972.5,483.6 973.1,484.9 973.7,484.6 974.3,485.6 974.9,484.8 975.5,486.0 976.1,486.7 976.7,486.6 977.3,486.5 977.9,486.2 978.5,487.7 979.1,488.0 979.7,488.1 980.3,487.8 980.9,489.6 981.5,491.9 982.1,489.5 982.7,490.3 983.3,490.7 983.9,488.4 984.5,491.7 985.1,491.4 985.7,494.1 986.3,492.9 986.9,493.1 987.5,494.0 988.1,495.2 988.7,494.9 989.3,495.8 989.9,495.0 990.5,496.4 991.1,497.9 991.7,499.6 992.3,498.9 992.9,498.6 993.5,499.9 994.1,500.4 994.7,501.7 995.3,501.6 995.9,501.1 996.5,502.0 997.1,502.6 997.7,503.1 998.3,503.9 998.9,503.4 999.5,502.6 1000.1,504.4 1000.7,503.8 1001.3,506.3 1001.9,507.0 1002.5,505.5 1003.1,507.9 1003.7,508.5 1004.3,508.2 1004.9,510.6 1005.5,511.3 1006.1,508.7 1006.7,511.8 1007.3,511.5 1007.9,512.2 1008.5,513.4 1009.1,512.9 1009.7,513.3 1010.3,513.6 1010.9,514.5 1011.5,515.8 1012.1,514.8 1012.7,515.8 1013.3,518.3 1013.9,518.6 1014.5,519.0 1015.1,517.7 1015.7,519.4 1016.3,520.0 1016.9,521.2 1017.5,521.0 1018.1,522.7 1018.7,521.9 1019.3,522.4 1019.9,523.0 1020.5,523.9 1021.1,523.3 1021.7,524.8 1022.3,524.3 1022.9,524.3 1023.5,524.7 1024.1,525.3 1024.7,526.1 1025.3,526.0 1025.9,525.6 1026.5,525.8 1027.1,525.7 1027.7,527.0 1028.3,526.3 1028.9,524.5 1029.5,528.4 1030.1,527.6 1030.7,527.1 1031.3,528.9 1031.9,529.2 1032.5,532.7 1033.1,531.6 1033.7,530.3 1034.3,533.3 1034.9,533.3 1035.5,535.8 1036.1,533.2 1036.7,532.2 1037.3,534.9 1037.9,535.4 1038.5,536.3 1039.1,534.9 1039.7,538.0 1040.3,539.7 1040.9,536.9 1041.5,540.7 1042.1,539.8 1042.7,542.9 1043.3,541.2 1043.9,541.1 1044.5,542.7 1045.1,542.4 1045.7,541.5 1046.3,543.1 1046.9,542.4 1047.5,541.4 1048.1,545.7 1048.7,543.3 1049.3,543.0 1049.9,544.0 1050.5,542.2 1051.1,542.9 1051.7,544.3 1052.3,544.1 1052.9,545.2 1053.5,546.8 1054.1,545.9 1054.7,547.4 1055.3,547.9 1055.9,546.6 1056.5,547.9 1057.1,546.7 1057.7,549.5 1058.3,548.8 1058.9,548.5 1059.5,547.4 1060.1,549.1 1060.7,548.7 1061.3,550.9 1061.9,550.5 1062.5,550.1 1063.1,551.9 1063.7,552.3 1064.3,551.3 1064.9,553.6 1065.5,552.8 1066.1,553.0 1066.7,553.6 1067.3,553.4 1067.9,554.2 1068.5,554.7 1069.1,556.5 1069.7,557.0 1070.3,555.6 1070.9,557.5 1071.5,556.3 1072.1,557.2 1072.7,557.9 1073.3,557.5 1073.9,560.1 1074.5,558.4 1075.1,557.3 1075.7,560.0 1076.3,558.5 1076.9,558.8 1077.5,555.8 1078.1,560.0 1078.7,560.2 1079.3,560.5 1079.9,560.8 1080.5,561.6 1081.1,559.9 1081.7,561.1 1082.3,559.9 1082.9,560.7 1083.5,562.4 1084.1,561.9 1084.7,560.4 1085.3,562.2 1085.9,561.9 1086.5,561.6 1087.1,563.3 1087.7,562.6 1088.3,561.8 1088.9,562.5 1089.5,565.9 1090.1,562.9 1090.7,565.3 1091.3,565.9 1091.9,566.2 1092.5,564.5 1093.1,565.6 1093.7,566.3 1094.3,567.3 1094.9,566.1 1095.5,565.7 1096.1,567.7 1096.7,568.0 1097.3,567.5 1097.9,566.8 1098.5,568.0 1099.1,567.8 1099.7,568.6 1100.3,566.5 1100.9,568.0 1101.5,568.4 1102.1,567.9 1102.7,569.5 1103.3,569.3 1103.9,568.8 1104.5,569.9 1105.1,568.1 1105.7,569.7 1106.3,570.2 1106.9,569.8 1107.5,570.4 1108.1,568.2 1108.7,568.1 1109.3,570.2 1109.9,570.1 1110.5,571.7 1111.1,569.9 1111.7,568.4 1112.3,570.3 1112.9,568.8 1113.5,568.0 1114.1,572.0 1114.7,569.6 1115.3,570.1 1115.9,569.9 1116.5,571.3 1117.1,570.2 1117.7,570.9 1118.3,568.8 1118.9,568.8 1119.5,571.6 1120.1,571.9 1120.7,571.1 1121.3,571.1 1121.9,571.4 1122.5,570.4 1123.1,573.1 1123.7,572.3 1124.3,572.0 1124.9,572.1 1125.5,572.8 1126.1,572.6 1126.7,572.8 1127.3,570.9 1127.9,572.8 1128.5,574.3 1129.1,571.9 1129.7,572.3 1130.3,573.2 1130.9,573.5 1131.5,573.0 1132.1,571.0 1132.7,573.0 1133.3,571.3 1133.9,572.0 1134.5,573.2 1135.1,573.0 1135.7,574.5 1136.3,577.2 1136.9,575.5 1137.5,575.7 1138.1,574.7 1138.7,575.2 1139.3,574.9 1139.9,575.8 1140.5,575.4 1141.1,575.9 1141.7,576.5 1142.3,575.9 1142.9,575.5 1143.5,575.5 1144.1,577.4 1144.7,577.2 1145.3,578.0 1145.9,578.2 1146.5,577.1 1147.1,578.0 1147.7,575.9 1148.3,579.8 1148.9,578.9 1149.5,577.9 1150.1,577.1 1150.7,578.6 1151.3,576.2 1151.9,577.5 1152.5,579.3 1153.1,578.9 1153.7,578.5 1154.3,580.1 1154.9,578.0 1155.5,579.4 1156.1,579.0 1156.7,578.9 1157.3,580.0 1157.9,578.5 1158.5,581.0 1159.1,578.5 1159.7,581.1 1160.3,578.1 1160.9,579.5 1161.5,577.4 1162.1,577.1 1162.7,579.0 1163.3,579.6 1163.9,577.9 1164.5,580.2 1165.1,578.1 1165.7,578.9 1166.3,579.4 1166.9,579.6 1167.2,577.2"/>
<polyline class="c" stroke="#ff0000" stroke-width="4.2" points="149.1,1132.4 150.1,1132.2 151.1,1132.1 152.1,1131.7 153.1,1132.2 154.1,1131.9 155.1,1131.2 156.1,1130.8 157.1,1131.5 158.1,1130.5 159.1,1130.8 160.1,1130.8 161.1,1129.7 162.1,1129.9 163.1,1129.5 164.1,1129.5 165.1,1129.2 166.1,1129.4 167.1,1128.8 168.1,1128.3 169.1,1128.4 170.1,1127.7 171.1,1127.3 172.1,1127.8 173.1,1126.6 174.1,1126.3 175.1,1126.2 176.1,1125.5 177.1,1124.9 178.1,1125.5 179.1,1124.6 180.1,1124.3 181.1,1124.0 182.1,1123.5 183.1,1123.2 184.1,1123.2 185.1,1123.6 186.1,1122.8 187.1,1122.5 188.1,1121.6 189.1,1121.8 190.1,1121.2 191.1,1121.5 192.1,1121.0 193.1,1120.9 194.1,1120.6 195.1,1120.2 196.1,1119.7 197.1,1120.1 198.1,1119.3 199.1,1119.2 200.1,1119.2 201.1,1118.8 202.1,1118.9 203.1,1118.8 204.1,1118.3 205.1,1118.0 206.1,1117.7 207.1,1117.6 208.1,1116.4 209.1,1116.7 210.1,1115.8 211.1,1115.2 212.1,1115.0 213.1,1114.3 214.1,1114.0 215.1,1113.6 216.1,1111.9 217.1,1112.0 218.1,1112.0 219.1,1111.2 220.1,1110.9 221.1,1110.1 222.1,1109.2 223.1,1109.1 224.1,1109.4 225.1,1109.3 226.1,1108.7 227.1,1108.7 228.1,1108.7 229.1,1108.0 230.1,1108.3 231.1,1108.8 232.1,1108.9 233.1,1108.1 234.1,1108.5 235.1,1107.6 236.1,1107.4 237.1,1106.7 238.1,1107.3 239.1,1106.5 240.1,1106.9 241.1,1105.8 242.1,1105.3 243.1,1104.1 244.1,1104.5 245.1,1103.4 246.1,1102.9 247.1,1101.7 248.1,1102.1 249.1,1101.7 250.1,1100.7 251.1,1100.6 252.1,1100.3 253.1,1100.2 254.1,1099.7 255.1,1099.9 256.1,1099.1 257.1,1098.8 258.1,1098.7 259.1,1097.8 260.1,1098.1 261.1,1098.4 262.1,1097.8 263.1,1097.1 264.1,1096.9 265.1,1095.7 266.1,1095.5 267.1,1095.1 268.1,1094.4 269.1,1093.2 270.1,1092.9 271.1,1092.4 272.1,1090.9 273.1,1090.4 274.1,1088.9 275.1,1088.1 276.1,1088.1 277.1,1087.2 278.1,1086.6 279.1,1085.6 280.1,1085.0 281.1,1084.6 282.1,1084.1 283.1,1082.8 284.1,1081.5 285.1,1081.5 286.1,1080.4 287.1,1079.5 288.1,1078.3 289.1,1077.8 290.1,1076.0 291.1,1074.9 292.1,1072.8 293.1,1071.8 294.1,1070.4 295.1,1069.1 296.1,1067.7 297.1,1065.8 298.1,1065.0 299.1,1062.4 300.1,1060.8 301.1,1059.2 302.1,1056.9 303.1,1055.4 304.1,1053.4 305.1,1051.0 306.1,1049.5 307.1,1046.7 308.1,1044.4 309.1,1041.6 310.1,1038.8 311.1,1036.4 312.1,1033.6 313.1,1030.7 314.1,1028.0 315.1,1023.9 316.1,1020.9 317.1,1017.1 318.1,1014.4 319.1,1010.0 320.1,1006.2 321.1,1002.1 322.1,998.9 323.1,994.5 324.1,990.5 325.1,985.6 326.1,982.6 327.1,978.6 328.1,975.2 329.1,971.9 330.1,968.5 331.1,966.4 332.1,965.2 333.1,963.9 334.1,963.1 335.1,963.3 336.1,963.8 337.1,965.4 338.1,966.8 339.1,968.5 340.1,972.0 341.1,974.5 342.1,978.8 343.1,983.1 344.1,985.9 345.1,988.5 346.1,992.3 347.1,994.8 348.1,997.1 349.1,1000.5 350.1,1002.8 351.1,1005.6 352.1,1009.0 353.1,1011.9 354.1,1014.3 355.1,1016.8 356.1,1018.6 357.1,1020.8 358.1,1022.4 359.1,1023.9 360.1,1024.5 361.1,1025.1 362.1,1025.8 363.1,1026.8 364.1,1027.8 365.1,1027.9 366.1,1027.5 367.1,1027.6 368.1,1026.5 369.1,1026.4 370.1,1025.2 371.1,1024.7 372.1,1023.7 373.1,1022.6 374.1,1021.7 375.1,1020.2 376.1,1019.2 377.1,1018.2 378.1,1017.7 379.1,1015.3 380.1,1013.8 381.1,1012.0 382.1,1011.1 383.1,1008.8 384.1,1007.5 385.1,1006.2 386.1,1004.1 387.1,1003.3 388.1,1001.6 389.1,999.6 390.1,998.0 391.1,996.3 392.1,994.8 393.1,993.8 394.1,992.4 395.1,990.8 396.1,989.3 397.1,987.5 398.1,986.3 399.1,984.2 400.1,983.2 401.1,982.2 402.1,980.7 403.1,978.7 404.1,977.3 405.1,976.4 406.1,975.0 407.1,972.5 408.1,971.2 409.1,969.8 410.1,968.3 411.1,966.0 412.1,964.6 413.1,962.5 414.1,961.4 415.1,958.9 416.1,956.9 417.1,955.0 418.1,953.6 419.1,951.7 420.1,949.5 421.1,948.2 422.1,946.0 423.1,944.5 424.1,942.6 425.1,940.8 426.1,939.2 427.1,937.2 428.1,935.5 429.1,933.3 430.1,930.5 431.1,927.6 432.1,925.5 433.1,922.0 434.1,919.6 435.1,917.9 436.1,915.5 437.1,913.2 438.1,910.5 439.1,907.9 440.1,905.8 441.1,904.0 442.1,901.6 443.1,900.0 444.1,898.2 445.1,897.0 446.1,896.6 447.1,895.9 448.1,895.0 449.1,894.7 450.1,894.6 451.1,894.8 452.1,894.3 453.1,894.7 454.1,894.3 455.1,894.8 456.1,895.6 457.1,896.2 458.1,896.2 459.1,897.2 460.1,898.6 461.1,899.3 462.1,900.3 463.1,901.7 464.1,902.9 465.1,904.5 466.1,905.8 467.1,906.9 468.1,908.5 469.1,909.9 470.1,910.9 471.1,912.5 472.1,914.6 473.1,915.3 474.1,917.6 475.1,918.9 476.1,920.1 477.1,921.5 478.1,922.4 479.1,923.4 480.1,923.6 481.1,924.3 482.1,924.9 483.1,926.2 484.1,926.5 485.1,926.5 486.1,927.1 487.1,927.4 488.1,928.0 489.1,928.3 490.1,929.1 491.1,927.9 492.1,928.8 493.1,928.5 494.1,928.1 495.1,928.0 496.1,927.7 497.1,927.6 498.1,927.5 499.1,926.4 500.1,926.9 501.1,926.0 502.1,926.2 503.1,925.5 504.1,925.4 505.1,924.8 506.1,924.6 507.1,923.7 508.1,922.9 509.1,922.8 510.1,922.2 511.1,922.0 512.1,920.2 513.1,920.2 514.1,920.1 515.1,918.9 516.1,918.8 517.1,919.1 518.1,918.7 519.1,917.7 520.1,918.2 521.1,917.8 522.1,917.5 523.1,917.2 524.1,916.9 525.1,916.4 526.1,916.4 527.1,916.7 528.1,916.4 529.1,916.9 530.1,916.4 531.1,916.0 532.1,916.9 533.1,917.4 534.1,917.9 535.1,918.3 536.1,918.6 537.1,919.9 538.1,919.8 539.1,920.8 540.1,921.2 541.1,921.8 542.1,923.5 543.1,923.4 544.1,925.0 545.1,926.5 546.1,927.6 547.1,929.2 548.1,930.3 549.1,931.5 550.1,933.9 551.1,934.8 552.1,936.6 553.1,938.2 554.1,940.2 555.1,942.7 556.1,944.7 557.1,946.7 558.1,948.7 559.1,951.5 560.1,953.3 561.1,956.3 562.1,958.9 563.1,961.4 564.1,964.3 565.1,966.7 566.1,969.2 567.1,972.5 568.1,974.7 569.1,977.4 570.1,979.6 571.1,982.4 572.1,984.9 573.1,987.5 574.1,990.3 575.1,991.9 576.1,994.4 577.1,996.6 578.1,997.9 579.1,1000.8 580.1,1003.5 581.1,1006.0 582.1,1007.9 583.1,1010.6 584.1,1012.7 585.1,1014.3 586.1,1016.8 587.1,1018.9 588.1,1020.3 589.1,1021.6 590.1,1023.9 591.1,1025.0 592.1,1026.5 593.1,1028.1 594.1,1029.3 595.1,1031.1 596.1,1032.4 597.1,1033.8 598.1,1034.9 599.1,1035.8 600.1,1037.2 601.1,1038.7 602.1,1039.6 603.1,1041.8 604.1,1042.1 605.1,1043.2 606.1,1045.0 607.1,1046.0 608.1,1047.0 609.1,1048.0 610.1,1049.3 611.1,1050.6 612.1,1051.6 613.1,1052.3 614.1,1053.5 615.1,1054.5 616.1,1055.4 617.1,1055.1 618.1,1056.6 619.1,1057.5 620.1,1058.5 621.1,1059.4 622.1,1060.4 623.1,1061.0 624.1,1061.5 625.1,1062.3 626.1,1063.6 627.1,1063.6 628.1,1064.5 629.1,1065.6 630.1,1065.9 631.1,1065.9 632.1,1067.3 633.1,1067.8 634.1,1068.6 635.1,1069.6 636.1,1070.1 637.1,1070.6 638.1,1071.6 639.1,1072.2 640.1,1072.7 641.1,1073.4 642.1,1074.0 643.1,1074.4 644.1,1075.0 645.1,1075.7 646.1,1076.0 647.1,1076.4 648.1,1077.7 649.1,1077.7 650.1,1078.3 651.1,1078.7 652.1,1079.2 653.1,1079.7 654.1,1080.1 655.1,1080.3 656.1,1081.2 657.1,1081.2 658.1,1082.1 659.1,1081.6 660.1,1082.3 661.1,1083.3 662.1,1083.3 663.1,1083.5 664.1,1084.2 665.1,1084.1 666.1,1084.8 667.1,1084.5 668.1,1085.3 669.1,1085.6 670.1,1086.3 671.1,1086.8 672.1,1086.6 673.1,1087.6 674.1,1087.3 675.1,1087.2 676.1,1087.4 677.1,1088.9 678.1,1088.7 679.1,1088.8 680.1,1089.1 681.1,1089.3 682.1,1090.3 683.1,1090.1 684.1,1090.9 685.1,1090.5 686.1,1090.1 687.1,1091.3 688.1,1091.1 689.1,1091.4 690.1,1092.2 691.1,1091.9 692.1,1092.5 693.1,1092.4 694.1,1092.4 695.1,1093.0 696.1,1092.9 697.1,1093.6 698.1,1093.7 699.1,1093.6 700.1,1093.9 701.1,1094.0 702.1,1093.9 703.1,1094.4 704.1,1094.1 705.1,1094.4 706.1,1093.9 707.1,1094.2 708.1,1094.3 709.1,1093.9 710.1,1093.9 711.1,1093.8 712.1,1094.1 713.1,1093.6 714.1,1093.8 715.1,1094.1 716.1,1093.6 717.1,1092.9 718.1,1093.3 719.1,1093.4 720.1,1092.8 721.1,1093.1 722.1,1092.8 723.1,1092.6 724.1,1092.2 725.1,1091.8 726.1,1091.6 727.1,1091.4 728.1,1091.2 729.1,1090.8 730.1,1090.2 731.1,1089.9 732.1,1089.6 733.1,1088.6 734.1,1088.4 735.1,1087.9 736.1,1087.7 737.1,1087.2 738.1,1086.8 739.1,1086.1 740.1,1086.1 741.1,1085.6 742.1,1084.5 743.1,1084.5 744.1,1083.7 745.1,1084.0 746.1,1082.8 747.1,1082.3 748.1,1081.8 749.1,1081.2 750.1,1080.6 751.1,1080.5 752.1,1079.4 753.1,1079.0 754.1,1078.4 755.1,1077.0 756.1,1077.1 757.1,1076.0 758.1,1075.2 759.1,1073.8 760.1,1073.4 761.1,1072.3 762.1,1071.0 763.1,1070.9 764.1,1069.4 765.1,1068.1 766.1,1067.2 767.1,1066.4 768.1,1065.4 769.1,1064.3 770.1,1063.5 771.1,1062.6 772.1,1060.8 773.1,1060.0 774.1,1058.9 775.1,1058.3 776.1,1057.7 777.1,1056.5 778.1,1055.0 779.1,1054.3 780.1,1053.7 781.1,1052.2 782.1,1051.4 783.1,1050.5 784.1,1048.8 785.1,1048.6 786.1,1047.4 787.1,1046.4 788.1,1044.8 789.1,1043.8 790.1,1042.7 791.1,1041.8 792.1,1040.6 793.1,1039.4 794.1,1038.7 795.1,1037.4 796.1,1035.6 797.1,1034.4 798.1,1033.9 799.1,1032.0 800.1,1031.3 801.1,1030.2 802.1,1028.3 803.1,1027.2 804.1,1026.1 805.1,1024.6 806.1,1023.4 807.1,1022.4 808.1,1021.6 809.1,1020.1 810.1,1019.1 811.1,1017.9 812.1,1016.6 813.1,1016.4 814.1,1014.2 815.1,1013.7 816.1,1013.1 817.1,1011.4 818.1,1011.0 819.1,1010.1 820.1,1008.3 821.1,1007.5 822.1,1005.9 823.1,1005.2 824.1,1003.8 825.1,1002.6 826.1,1001.8 827.1,1000.3 828.1,999.3 829.1,997.9 830.1,996.2 831.1,995.5 832.1,994.5 833.1,992.8 834.1,992.6 835.1,991.1 836.1,990.1 837.1,988.6 838.1,987.7 839.1,986.5 840.1,984.9 841.1,983.6 842.1,981.4 843.1,981.0 844.1,978.8 845.1,977.2 846.1,976.4 847.1,975.5 848.1,975.1 849.1,973.9 850.1,973.6 851.1,972.6 852.1,972.9 853.1,971.8 854.1,971.5 855.1,969.9 856.1,969.7 857.1,968.3 858.1,967.8 859.1,966.8 860.1,965.0 861.1,964.0 862.1,962.8 863.1,961.5 864.1,960.5 865.1,959.3 866.1,958.1 867.1,957.5 868.1,956.5 869.1,954.8 870.1,953.6 871.1,951.9 872.1,949.5 873.1,947.1 874.1,945.7 875.1,944.0 876.1,942.5 877.1,940.7 878.1,939.8 879.1,937.9 880.1,935.3 881.1,933.4 882.1,931.6 883.1,929.0 884.1,927.3 885.1,925.3 886.1,923.1 887.1,921.4 888.1,919.1 889.1,917.6 890.1,915.4 891.1,915.0 892.1,913.0 893.1,911.3 894.1,909.4 895.1,908.1 896.1,906.6 897.1,905.0 898.1,903.5 899.1,901.5 900.1,900.5 901.1,898.8 902.1,897.2 903.1,895.9 904.1,895.0 905.1,893.9 906.1,891.9 907.1,891.6 908.1,890.4 909.1,888.7 910.1,887.5 911.1,886.5 912.1,885.7 913.1,884.3 914.1,883.0 915.1,882.4 916.1,880.7 917.1,880.4 918.1,879.7 919.1,878.4 920.1,877.5 921.1,876.3 922.1,875.2 923.1,873.9 924.1,872.5 925.1,871.6 926.1,870.7 927.1,870.3 928.1,869.6 929.1,868.4 930.1,867.3 931.1,866.6 932.1,866.0 933.1,865.8 934.1,864.9 935.1,864.2 936.1,863.4 937.1,863.4 938.1,862.8 939.1,862.3 940.1,862.0 941.1,862.2 942.1,861.4 943.1,861.6 944.1,861.2 945.1,860.6 946.1,860.6 947.1,860.1 948.1,859.6 949.1,859.6 950.1,859.2 951.1,859.5 952.1,859.2 953.1,859.3 954.1,859.3 955.1,858.1 956.1,859.1 957.1,858.5 958.1,859.2 959.1,859.0 960.1,859.4 961.1,860.0 962.1,859.3 963.1,860.1 964.1,860.3 965.1,860.0 966.1,861.0 967.1,861.1 968.1,861.3 969.1,861.5 970.1,863.0 971.1,862.3 972.1,862.3 973.1,863.0 974.1,863.7 975.1,864.2 976.1,864.9 977.1,865.2 978.1,866.3 979.1,866.7 980.1,867.1 981.1,868.0 982.1,868.9 983.1,870.2 984.1,871.2 985.1,872.1 986.1,873.5 987.1,875.0 988.1,877.0 989.1,877.6 990.1,879.4 991.1,880.9 992.1,881.7 993.1,883.3 994.1,884.4 995.1,885.2 996.1,886.5 997.1,887.6 998.1,888.6 999.1,889.1 1000.1,890.1 1001.1,891.6 1002.1,891.4 1003.1,892.5 1004.1,893.5 1005.1,893.9 1006.1,894.7 1007.1,895.1 1008.1,895.8 1009.1,896.5 1010.1,896.4 1011.1,897.0 1012.1,897.2 1013.1,897.5 1014.1,897.9 1015.1,897.9 1016.1,898.8 1017.1,899.4 1018.1,899.8 1019.1,900.0 1020.1,899.8 1021.1,900.9 1022.1,900.7 1023.1,901.3 1024.1,902.4 1025.1,901.9 1026.1,903.0 1027.1,903.3 1028.1,903.7 1029.1,904.0 1030.1,905.0 1031.1,905.3 1032.1,906.4 1033.1,907.2 1034.1,907.2 1035.1,908.3 1036.1,909.3 1037.1,910.0 1038.1,911.1 1039.1,912.5 1040.1,913.5 1041.1,914.1 1042.1,915.5 1043.1,916.9 1044.1,917.3 1045.1,918.4 1046.1,920.1 1047.1,920.8 1048.1,920.8 1049.1,921.7 1050.1,923.0 1051.1,923.3 1052.1,924.3 1053.1,925.0 1054.1,926.1 1055.1,925.9 1056.1,926.7 1057.1,927.7 1058.1,929.1 1059.1,929.5 1060.1,929.7 1061.1,931.1 1062.1,931.8 1063.1,932.2 1064.1,932.9 1065.1,933.8 1066.1,934.7 1067.1,935.1 1068.1,935.8 1069.1,936.3 1070.1,936.9 1071.1,937.4 1072.1,938.4 1073.1,938.9 1074.1,939.5 1075.1,940.5 1076.1,941.0 1077.1,941.8 1078.1,941.7 1079.1,942.9 1080.1,943.2 1081.1,943.7 1082.1,944.3 1083.1,945.5 1084.1,946.0 1085.1,946.1 1086.1,946.6 1087.1,947.5 1088.1,948.0 1089.1,949.2 1090.1,948.8 1091.1,949.3 1092.1,950.3 1093.1,951.0 1094.1,951.6 1095.1,952.3 1096.1,953.3 1097.1,953.1 1098.1,953.6 1099.1,953.8 1100.1,954.9 1101.1,955.6 1102.1,955.8 1103.1,956.7 1104.1,956.8 1105.1,957.8 1106.1,957.9 1107.1,957.9 1108.1,958.5 1109.1,958.6 1110.1,959.0 1111.1,960.0 1112.1,960.6 1113.1,961.3 1114.1,961.1 1115.1,961.4 1116.1,961.5 1117.1,962.5 1118.1,962.7 1119.1,962.8 1120.1,963.5 1121.1,963.8 1122.1,963.4 1123.1,964.6 1124.1,964.7 1125.1,964.9 1126.1,965.2 1127.1,966.2 1128.1,966.4 1129.1,966.8 1130.1,966.2 1131.1,966.7 1132.1,967.4 1133.1,967.1 1134.1,967.5 1135.1,967.4 1136.1,968.8 1137.1,968.8 1138.1,968.9 1139.1,969.0 1140.1,969.1 1141.1,969.3 1142.1,969.9 1143.1,969.7 1144.1,970.6 1145.1,970.3 1146.1,970.5 1147.1,971.4 1148.1,971.2 1149.1,971.8 1150.1,971.8 1151.1,971.6 1152.1,972.7 1153.1,972.5 1154.1,973.6 1155.1,973.3 1156.1,973.6 1157.1,974.6 1158.1,975.1 1159.1,975.4 1160.1,975.5 1161.1,976.6 1162.1,976.4 1163.1,977.2 1164.1,977.5 1165.1,978.2 1166.1,979.0 1166.9,979.0"/>
<polyline class="c" stroke="#000000" stroke-width="6.6" points="148.1,1432.9 148.7,1432.7 149.3,1429.7 149.9,1430.0 150.5,1430.3 151.1,1430.1 151.7,1431.0 152.3,1428.6 152.9,1431.4 153.5,1431.0 154.1,1429.9 154.7,1428.2 155.3,1429.6 155.9,1428.9 156.5,1429.6 157.1,1428.6 157.7,1428.9 158.3,1427.9 158.9,1430.1 159.5,1425.5 160.1,1427.2 160.7,1428.3 161.3,1426.1 161.9,1428.1 162.5,1425.6 163.1,1427.0 163.7,1425.2 164.3,1425.3 164.9,1425.9 165.5,1425.1 166.1,1425.2 166.7,1427.5 167.3,1424.9 167.9,1423.9 168.5,1425.3 169.1,1425.0 169.7,1425.6 170.3,1426.1 170.9,1422.9 171.5,1424.5 172.1,1424.4 172.7,1423.1 173.3,1423.1 173.9,1419.9 174.5,1422.6 175.1,1424.7 175.7,1420.4 176.3,1421.9 176.9,1422.4 177.5,1422.6 178.1,1423.6 178.7,1419.5 179.3,1420.8 179.9,1421.4 180.5,1418.6 181.1,1419.8 181.7,1421.5 182.3,1421.1 182.9,1419.9 183.5,1416.5 184.1,1419.2 184.7,1419.8 185.3,1418.7 185.9,1419.0 186.5,1422.3 187.1,1418.8 187.7,1417.9 188.3,1419.3 188.9,1418.5 189.5,1418.2 190.1,1418.5 190.7,1419.3 191.3,1418.6 191.9,1417.1 192.5,1417.6 193.1,1418.2 193.7,1416.9 194.3,1418.4 194.9,1418.2 195.5,1416.1 196.1,1417.3 196.7,1419.1 197.3,1418.3 197.9,1416.4 198.5,1416.9 199.1,1415.2 199.7,1414.2 200.3,1415.7 200.9,1415.0 201.5,1415.4 202.1,1414.7 202.7,1414.8 203.3,1414.1 203.9,1415.0 204.5,1415.4 205.1,1414.4 205.7,1415.2 206.3,1412.2 206.9,1413.1 207.5,1415.4 208.1,1415.7 208.7,1413.6 209.3,1413.0 209.9,1411.5 210.5,1412.9 211.1,1413.5 211.7,1410.6 212.3,1412.5 212.9,1412.3 213.5,1412.2 214.1,1410.4 214.7,1412.3 215.3,1409.7 215.9,1412.1 216.5,1410.8 217.1,1409.6 217.7,1412.1 218.3,1411.6 218.9,1409.5 219.5,1412.7 220.1,1409.1 220.7,1410.9 221.3,1412.2 221.9,1408.2 222.5,1411.5 223.1,1410.4 223.7,1410.6 224.3,1409.4 224.9,1410.8 225.5,1408.9 226.1,1408.8 226.7,1409.0 227.3,1408.0 227.9,1410.4 228.5,1406.9 229.1,1407.3 229.7,1407.4 230.3,1407.5 230.9,1408.0 231.5,1408.0 232.1,1406.9 232.7,1406.6 233.3,1407.5 233.9,1408.5 234.5,1408.4 235.1,1407.0 235.7,1404.8 236.3,1409.6 236.9,1408.1 237.5,1407.2 238.1,1407.1 238.7,1406.0 239.3,1405.3 239.9,1405.7 240.5,1405.3 241.1,1404.8 241.7,1403.9 242.3,1404.7 242.9,1405.5 243.5,1404.6 244.1,1404.8 244.7,1402.4 245.3,1404.0 245.9,1404.1 246.5,1402.9 247.1,1401.8 247.7,1403.6 248.3,1402.3 248.9,1403.1 249.5,1402.3 250.1,1403.2 250.7,1402.2 251.3,1401.0 251.9,1402.6 252.5,1402.2 253.1,1403.8 253.7,1402.0 254.3,1402.0 254.9,1403.6 255.5,1403.8 256.1,1403.6 256.7,1403.6 257.3,1402.9 257.9,1403.5 258.5,1403.4 259.1,1402.8 259.7,1402.2 260.3,1401.9 260.9,1404.1 261.5,1400.9 262.1,1400.8 262.7,1400.5 263.3,1400.6 263.9,1400.7 264.5,1399.3 265.1,1398.5 265.7,1401.0 266.3,1399.2 266.9,1401.7 267.5,1401.4 268.1,1402.2 268.7,1403.0 269.3,1401.8 269.9,1400.8 270.5,1399.9 271.1,1400.5 271.7,1401.4 272.3,1398.7 272.9,1400.9 273.5,1401.2 274.1,1401.9 274.7,1401.1 275.3,1401.5 275.9,1400.6 276.5,1400.7 277.1,1399.1 277.7,1401.3 278.3,1403.0 278.9,1401.3 279.5,1401.5 280.1,1399.8 280.7,1402.4 281.3,1400.1 281.9,1401.8 282.5,1401.1 283.1,1399.8 283.7,1402.2 284.3,1400.6 284.9,1400.9 285.5,1401.4 286.1,1401.1 286.7,1401.0 287.3,1402.0 287.9,1401.0 288.5,1401.3 289.1,1400.7 289.7,1400.4 290.3,1401.4 290.9,1401.4 291.5,1401.9 292.1,1403.1 292.7,1399.8 293.3,1401.8 293.9,1399.5 294.5,1400.3 295.1,1400.5 295.7,1398.4 296.3,1398.6 296.9,1400.1 297.5,1399.9 298.1,1399.1 298.7,1398.5 299.3,1401.7 299.9,1399.3 300.5,1398.3 301.1,1400.6 301.7,1399.3 302.3,1398.5 302.9,1399.8 303.5,1398.9 304.1,1399.0 304.7,1398.4 305.3,1396.5 305.9,1398.2 306.5,1397.3 307.1,1395.7 307.7,1395.9 308.3,1398.0 308.9,1396.7 309.5,1396.9 310.1,1397.4 310.7,1397.2 311.3,1395.6 311.9,1397.9 312.5,1398.3 313.1,1398.0 313.7,1398.3 314.3,1396.3 314.9,1396.5 315.5,1397.0 316.1,1394.6 316.7,1396.6 317.3,1396.7 317.9,1395.6 318.5,1396.4 319.1,1395.5 319.7,1393.6 320.3,1395.9 320.9,1395.1 321.5,1395.0 322.1,1394.7 322.7,1395.6 323.3,1394.4 323.9,1393.2 324.5,1394.1 325.1,1394.4 325.7,1392.3 326.3,1392.5 326.9,1392.2 327.5,1391.8 328.1,1393.0 328.7,1393.7 329.3,1394.3 329.9,1394.0 330.5,1393.6 331.1,1393.9 331.7,1393.7 332.3,1392.2 332.9,1393.1 333.5,1392.7 334.1,1391.8 334.7,1391.5 335.3,1390.7 335.9,1391.0 336.5,1389.8 337.1,1391.6 337.7,1390.7 338.3,1390.6 338.9,1390.4 339.5,1391.1 340.1,1389.1 340.7,1389.8 341.3,1387.8 341.9,1386.9 342.5,1387.3 343.1,1391.1 343.7,1387.4 344.3,1390.0 344.9,1391.0 345.5,1389.3 346.1,1391.4 346.7,1391.5 347.3,1390.4 347.9,1391.8 348.5,1389.8 349.1,1388.4 349.7,1389.8 350.3,1388.8 350.9,1387.6 351.5,1387.5 352.1,1391.5 352.7,1388.8 353.3,1389.1 353.9,1388.2 354.5,1389.0 355.1,1388.5 355.7,1388.4 356.3,1387.8 356.9,1387.7 357.5,1388.3 358.1,1389.1 358.7,1391.4 359.3,1390.2 359.9,1390.9 360.5,1389.3 361.1,1388.3 361.7,1387.0 362.3,1388.4 362.9,1386.2 363.5,1387.8 364.1,1390.1 364.7,1388.8 365.3,1389.6 365.9,1387.9 366.5,1386.7 367.1,1387.2 367.7,1387.2 368.3,1388.7 368.9,1389.7 369.5,1386.4 370.1,1386.3 370.7,1386.6 371.3,1386.5 371.9,1385.1 372.5,1386.8 373.1,1386.8 373.7,1387.1 374.3,1385.5 374.9,1386.6 375.5,1384.9 376.1,1387.4 376.7,1385.0 377.3,1385.9 377.9,1385.8 378.5,1385.9 379.1,1384.9 379.7,1384.2 380.3,1388.1 380.9,1386.4 381.5,1386.8 382.1,1389.0 382.7,1386.5 383.3,1386.8 383.9,1386.0 384.5,1387.3 385.1,1386.3 385.7,1386.0 386.3,1385.2 386.9,1385.5 387.5,1386.3 388.1,1382.9 388.7,1385.0 389.3,1384.4 389.9,1384.8 390.5,1382.9 391.1,1385.9 391.7,1384.4 392.3,1385.0 392.9,1384.5 393.5,1382.8 394.1,1383.8 394.7,1382.7 395.3,1383.7 395.9,1383.9 396.5,1384.1 397.1,1383.7 397.7,1383.8 398.3,1386.3 398.9,1384.4 399.5,1382.6 400.1,1382.9 400.7,1382.6 401.3,1383.3 401.9,1382.6 402.5,1382.5 403.1,1384.7 403.7,1382.8 404.3,1382.3 404.9,1382.2 405.5,1382.2 406.1,1383.7 406.7,1382.5 407.3,1383.0 407.9,1378.3 408.5,1382.1 409.1,1382.9 409.7,1383.9 410.3,1381.5 410.9,1379.4 411.5,1382.0 412.1,1380.6 412.7,1379.4 413.3,1380.6 413.9,1382.6 414.5,1383.1 415.1,1382.4 415.7,1380.6 416.3,1384.3 416.9,1380.5 417.5,1382.0 418.1,1380.5 418.7,1383.2 419.3,1382.2 419.9,1382.3 420.5,1381.4 421.1,1381.1 421.7,1380.9 422.3,1378.4 422.9,1381.4 423.5,1381.3 424.1,1379.5 424.7,1379.8 425.3,1379.7 425.9,1381.5 426.5,1380.3 427.1,1380.1 427.7,1379.7 428.3,1378.2 428.9,1379.3 429.5,1380.4 430.1,1379.8 430.7,1380.5 431.3,1380.6 431.9,1380.4 432.5,1380.4 433.1,1380.5 433.7,1379.7 434.3,1379.6 434.9,1380.4 435.5,1377.9 436.1,1381.3 436.7,1378.7 437.3,1380.7 437.9,1379.7 438.5,1381.0 439.1,1380.3 439.7,1378.9 440.3,1380.4 440.9,1380.0 441.5,1379.7 442.1,1379.4 442.7,1380.2 443.3,1379.8 443.9,1379.1 444.5,1376.8 445.1,1377.9 445.7,1378.5 446.3,1379.7 446.9,1377.9 447.5,1377.4 448.1,1379.1 448.7,1377.5 449.3,1377.5 449.9,1377.4 450.5,1375.1 451.1,1377.9 451.7,1377.3 452.3,1375.9 452.9,1374.7 453.5,1375.7 454.1,1376.6 454.7,1374.2 455.3,1373.6 455.9,1375.1 456.5,1372.6 457.1,1372.0 457.7,1373.9 458.3,1373.5 458.9,1373.9 459.5,1373.8 460.1,1374.1 460.7,1373.1 461.3,1372.5 461.9,1372.1 462.5,1372.5 463.1,1372.7 463.7,1372.4 464.3,1371.7 464.9,1367.1 465.5,1369.6 466.1,1370.2 466.7,1370.7 467.3,1368.6 467.9,1372.0 468.5,1370.6 469.1,1369.5 469.7,1370.4 470.3,1369.3 470.9,1368.9 471.5,1369.9 472.1,1368.7 472.7,1367.5 473.3,1368.5 473.9,1369.0 474.5,1367.9 475.1,1370.4 475.7,1368.2 476.3,1371.3 476.9,1370.4 477.5,1368.0 478.1,1369.2 478.7,1370.0 479.3,1368.1 479.9,1366.7 480.5,1367.4 481.1,1369.4 481.7,1365.1 482.3,1367.3 482.9,1367.0 483.5,1366.4 484.1,1366.3 484.7,1366.5 485.3,1367.9 485.9,1367.4 486.5,1365.2 487.1,1367.8 487.7,1364.9 488.3,1366.9 488.9,1366.4 489.5,1367.0 490.1,1365.9 490.7,1366.9 491.3,1365.6 491.9,1366.5 492.5,1365.7 493.1,1367.4 493.7,1364.2 494.3,1366.7 494.9,1365.8 495.5,1365.2 496.1,1363.8 496.7,1365.1 497.3,1362.7 497.9,1363.1 498.5,1365.1 499.1,1362.3 499.7,1364.8 500.3,1362.9 500.9,1363.7 501.5,1363.3 502.1,1363.4 502.7,1363.0 503.3,1362.4 503.9,1362.4 504.5,1363.3 505.1,1363.2 505.7,1362.9 506.3,1361.2 506.9,1360.2 507.5,1357.9 508.1,1359.6 508.7,1359.4 509.3,1357.9 509.9,1359.1 510.5,1359.1 511.1,1357.6 511.7,1358.6 512.3,1357.4 512.9,1355.0 513.5,1356.4 514.1,1356.4 514.7,1356.8 515.3,1355.1 515.9,1355.3 516.5,1354.5 517.1,1354.8 517.7,1354.9 518.3,1355.7 518.9,1354.8 519.5,1353.9 520.1,1353.9 520.7,1353.1 521.3,1353.1 521.9,1353.8 522.5,1348.9 523.1,1350.8 523.7,1350.9 524.3,1351.7 524.9,1348.5 525.5,1349.7 526.1,1350.1 526.7,1348.0 527.3,1346.6 527.9,1348.0 528.5,1346.1 529.1,1347.3 529.7,1344.8 530.3,1347.2 530.9,1344.5 531.5,1342.6 532.1,1341.9 532.7,1340.1 533.3,1341.0 533.9,1341.6 534.5,1339.4 535.1,1340.3 535.7,1337.7 536.3,1338.5 536.9,1340.1 537.5,1335.7 538.1,1338.2 538.7,1337.8 539.3,1334.5 539.9,1334.2 540.5,1333.9 541.1,1335.8 541.7,1333.7 542.3,1333.6 542.9,1333.6 543.5,1332.0 544.1,1331.0 544.7,1330.0 545.3,1331.1 545.9,1328.5 546.5,1330.4 547.1,1328.0 547.7,1327.3 548.3,1328.5 548.9,1327.9 549.5,1324.8 550.1,1326.1 550.7,1323.8 551.3,1324.5 551.9,1326.1 552.5,1323.2 553.1,1323.7 553.7,1322.6 554.3,1324.9 554.9,1322.0 555.5,1320.3 556.1,1320.1 556.7,1319.4 557.3,1320.0 557.9,1319.3 558.5,1320.2 559.1,1318.6 559.7,1317.9 560.3,1318.1 560.9,1317.6 561.5,1317.0 562.1,1317.1 562.7,1316.1 563.3,1313.7 563.9,1311.6 564.5,1312.4 565.1,1313.1 565.7,1308.9 566.3,1310.5 566.9,1311.1 567.5,1309.1 568.1,1307.5 568.7,1310.6 569.3,1309.6 569.9,1307.0 570.5,1307.6 571.1,1306.9 571.7,1303.6 572.3,1307.2 572.9,1302.8 573.5,1303.3 574.1,1301.7 574.7,1302.0 575.3,1299.7 575.9,1300.6 576.5,1301.5 577.1,1299.6 577.7,1298.5 578.3,1299.9 578.9,1296.4 579.5,1298.1 580.1,1295.9 580.7,1296.0 581.3,1295.5 581.9,1295.2 582.5,1293.9 583.1,1292.5 583.7,1292.1 584.3,1293.0 584.9,1290.9 585.5,1289.2 586.1,1288.9 586.7,1288.0 587.3,1288.0 587.9,1287.9 588.5,1287.2 589.1,1285.5 589.7,1285.0 590.3,1283.1 590.9,1280.7 591.5,1283.2 592.1,1281.0 592.7,1280.8 593.3,1280.1 593.9,1280.9 594.5,1277.4 595.1,1278.6 595.7,1277.3 596.3,1275.8 596.9,1274.5 597.5,1275.9 598.1,1275.6 598.7,1275.1 599.3,1275.7 599.9,1273.7 600.5,1273.5 601.1,1272.2 601.7,1272.0 602.3,1271.2 602.9,1270.0 603.5,1271.9 604.1,1267.2 604.7,1269.1 605.3,1268.9 605.9,1267.7 606.5,1265.7 607.1,1265.7 607.7,1264.4 608.3,1262.9 608.9,1263.4 609.5,1262.1 610.1,1260.8 610.7,1261.2 611.3,1258.2 611.9,1259.2 612.5,1257.3 613.1,1257.7 613.7,1256.3 614.3,1255.4 614.9,1253.5 615.5,1253.0 616.1,1252.2 616.7,1252.6 617.3,1252.8 617.9,1252.3 618.5,1250.1 619.1,1250.5 619.7,1248.9 620.3,1247.8 620.9,1249.1 621.5,1248.8 622.1,1248.0 622.7,1247.5 623.3,1250.1 623.9,1248.5 624.5,1247.0 625.1,1250.7 625.7,1248.1 626.3,1247.5 626.9,1248.4 627.5,1246.6 628.1,1248.8 628.7,1245.2 629.3,1245.2 629.9,1246.5 630.5,1246.0 631.1,1248.3 631.7,1244.4 632.3,1245.7 632.9,1246.5 633.5,1246.6 634.1,1247.1 634.7,1246.2 635.3,1248.3 635.9,1245.7 636.5,1246.4 637.1,1247.9 637.7,1246.8 638.3,1247.3 638.9,1247.4 639.5,1247.6 640.1,1247.8 640.7,1248.8 641.3,1247.9 641.9,1250.8 642.5,1249.0 643.1,1253.5 643.7,1253.8 644.3,1254.0 644.9,1253.1 645.5,1253.3 646.1,1256.0 646.7,1255.5 647.3,1256.7 647.9,1256.4 648.5,1259.2 649.1,1258.1 649.7,1260.2 650.3,1258.9 650.9,1261.2 651.5,1263.8 652.1,1264.0 652.7,1264.7 653.3,1267.0 653.9,1267.2 654.5,1270.0 655.1,1267.1 655.7,1271.7 656.3,1272.6 656.9,1271.3 657.5,1272.7 658.1,1276.5 658.7,1275.6 659.3,1277.3 659.9,1279.8 660.5,1279.8 661.1,1281.9 661.7,1281.7 662.3,1283.9 662.9,1286.5 663.5,1286.6 664.1,1285.3 664.7,1289.4 665.3,1289.7 665.9,1290.3 666.5,1293.5 667.1,1290.9 667.7,1296.4 668.3,1294.4 668.9,1298.1 669.5,1297.1 670.1,1296.7 670.7,1299.2 671.3,1300.3 671.9,1301.8 672.5,1303.6 673.1,1302.3 673.7,1305.1 674.3,1306.2 674.9,1306.0 675.5,1306.2 676.1,1306.8 676.7,1309.1 677.3,1309.9 677.9,1308.5 678.5,1308.0 679.1,1310.9 679.7,1308.7 680.3,1311.4 680.9,1311.0 681.5,1310.7 682.1,1313.6 682.7,1314.2 683.3,1316.9 683.9,1318.8 684.5,1317.2 685.1,1319.0 685.7,1319.3 686.3,1317.9 686.9,1318.2 687.5,1321.3 688.1,1319.9 688.7,1320.7 689.3,1321.1 689.9,1321.6 690.5,1321.9 691.1,1323.7 691.7,1325.3 692.3,1323.9 692.9,1323.2 693.5,1324.8 694.1,1323.5 694.7,1324.6 695.3,1326.3 695.9,1327.6 696.5,1326.1 697.1,1324.4 697.7,1326.8 698.3,1324.3 698.9,1326.4 699.5,1329.2 700.1,1329.1 700.7,1327.3 701.3,1327.2 701.9,1330.1 702.5,1329.6 703.1,1329.4 703.7,1330.4 704.3,1329.3 704.9,1328.1 705.5,1331.0 706.1,1329.7 706.7,1329.5 707.3,1329.2 707.9,1331.0 708.5,1329.8 709.1,1331.2 709.7,1330.5 710.3,1332.1 710.9,1330.4 711.5,1330.2 712.1,1328.8 712.7,1329.9 713.3,1332.2 713.9,1334.8 714.5,1330.2 715.1,1330.7 715.7,1332.6 716.3,1333.0 716.9,1332.1 717.5,1333.2 718.1,1331.4 718.7,1332.9 719.3,1334.9 719.9,1336.1 720.5,1334.2 721.1,1333.9 721.7,1334.8 722.3,1335.9 722.9,1335.3 723.5,1334.2 724.1,1335.7 724.7,1336.1 725.3,1334.4 725.9,1333.6 726.5,1335.8 727.1,1335.5 727.7,1336.2 728.3,1335.3 728.9,1334.3 729.5,1334.6 730.1,1333.8 730.7,1333.6 731.3,1333.8 731.9,1333.8 732.5,1335.6 733.1,1332.7 733.7,1333.9 734.3,1333.2 734.9,1335.1 735.5,1333.8 736.1,1333.0 736.7,1334.7 737.3,1334.0 737.9,1333.5 738.5,1335.3 739.1,1334.5 739.7,1335.5 740.3,1335.0 740.9,1334.6 741.5,1333.8 742.1,1332.1 742.7,1333.8 743.3,1333.5 743.9,1334.3 744.5,1333.4 745.1,1333.1 745.7,1332.7 746.3,1334.8 746.9,1335.3 747.5,1333.5 748.1,1335.1 748.7,1335.7 749.3,1333.2 749.9,1333.8 750.5,1332.9 751.1,1335.1 751.7,1333.9 752.3,1333.4 752.9,1332.4 753.5,1333.3 754.1,1334.5 754.7,1333.0 755.3,1332.3 755.9,1333.5 756.5,1331.3 757.1,1332.6 757.7,1333.5 758.3,1331.8 758.9,1331.8 759.5,1333.0 760.1,1332.9 760.7,1333.2 761.3,1333.4 761.9,1333.9 762.5,1332.7 763.1,1332.4 763.7,1333.6 764.3,1334.3 764.9,1334.4 765.5,1332.0 766.1,1334.3 766.7,1334.4 767.3,1333.1 767.9,1333.9 768.5,1334.2 769.1,1335.2 769.7,1332.0 770.3,1334.1 770.9,1333.1 771.5,1332.9 772.1,1333.8 772.7,1333.5 773.3,1331.4 773.9,1332.6 774.5,1333.4 775.1,1331.7 775.7,1334.4 776.3,1333.0 776.9,1333.2 777.5,1333.4 778.1,1335.0 778.7,1333.2 779.3,1332.8 779.9,1334.9 780.5,1332.3 781.1,1332.2 781.7,1331.5 782.3,1334.3 782.9,1333.6 783.5,1334.0 784.1,1333.7 784.7,1333.3 785.3,1332.7 785.9,1332.5 786.5,1333.4 787.1,1333.0 787.7,1334.1 788.3,1331.3 788.9,1331.5 789.5,1330.5 790.1,1332.8 790.7,1329.8 791.3,1331.9 791.9,1332.7 792.5,1331.1 793.1,1332.4 793.7,1329.1 794.3,1330.6 794.9,1329.0 795.5,1330.7 796.1,1330.1 796.7,1329.1 797.3,1330.2 797.9,1328.7 798.5,1327.5 799.1,1326.8 799.7,1325.4 800.3,1326.2 800.9,1328.4 801.5,1325.1 802.1,1326.0 802.7,1324.9 803.3,1325.9 803.9,1325.0 804.5,1324.1 805.1,1322.2 805.7,1322.9 806.3,1324.3 806.9,1321.7 807.5,1322.1 808.1,1320.5 808.7,1318.8 809.3,1321.0 809.9,1320.5 810.5,1318.7 811.1,1319.1 811.7,1319.7 812.3,1318.8 812.9,1319.4 813.5,1318.3 814.1,1315.9 814.7,1317.8 815.3,1316.9 815.9,1316.5 816.5,1317.5 817.1,1316.1 817.7,1317.3 818.3,1317.9 818.9,1317.3 819.5,1315.4 820.1,1316.0 820.7,1317.9 821.3,1316.9 821.9,1316.8 822.5,1317.3 823.1,1317.3 823.7,1316.8 824.3,1316.8 824.9,1314.6 825.5,1315.3 826.1,1315.0 826.7,1314.4 827.3,1311.6 827.9,1313.7 828.5,1312.8 829.1,1315.7 829.7,1315.8 830.3,1315.9 830.9,1314.6 831.5,1312.8 832.1,1314.5 832.7,1313.2 833.3,1313.9 833.9,1312.3 834.5,1312.1 835.1,1312.6 835.7,1313.9 836.3,1311.9 836.9,1314.0 837.5,1314.0 838.1,1309.0 838.7,1309.9 839.3,1307.9 839.9,1308.3 840.5,1307.6 841.1,1307.2 841.7,1307.4 842.3,1307.2 842.9,1306.2 843.5,1305.3 844.1,1304.3 844.7,1304.3 845.3,1304.2 845.9,1303.2 846.5,1303.3 847.1,1301.2 847.7,1302.7 848.3,1303.4 848.9,1301.3 849.5,1299.8 850.1,1301.9 850.7,1299.7 851.3,1296.3 851.9,1299.5 852.5,1299.6 853.1,1299.3 853.7,1299.6 854.3,1298.6 854.9,1297.5 855.5,1295.0 856.1,1295.7 856.7,1296.7 857.3,1296.3 857.9,1294.3 858.5,1293.9 859.1,1294.7 859.7,1291.4 860.3,1290.7 860.9,1292.3 861.5,1292.4 862.1,1291.2 862.7,1289.0 863.3,1290.7 863.9,1289.2 864.5,1290.9 865.1,1289.8 865.7,1289.5 866.3,1289.5 866.9,1287.9 867.5,1289.0 868.1,1288.8 868.7,1288.0 869.3,1288.7 869.9,1286.4 870.5,1287.9 871.1,1287.0 871.7,1285.1 872.3,1285.5 872.9,1284.3 873.5,1283.8 874.1,1284.1 874.7,1284.3 875.3,1281.9 875.9,1281.7 876.5,1279.4 877.1,1280.6 877.7,1280.9 878.3,1280.1 878.9,1279.4 879.5,1277.7 880.1,1277.0 880.7,1277.7 881.3,1275.7 881.9,1275.8 882.5,1277.7 883.1,1275.8 883.7,1278.5 884.3,1274.5 884.9,1276.1 885.5,1273.7 886.1,1274.9 886.7,1273.2 887.3,1273.3 887.9,1273.0 888.5,1272.3 889.1,1272.4 889.7,1273.4 890.3,1270.7 890.9,1272.5 891.5,1271.3 892.1,1270.7 892.7,1272.9 893.3,1267.2 893.9,1268.3 894.5,1266.8 895.1,1267.9 895.7,1267.5 896.3,1270.7 896.9,1266.0 897.5,1267.5 898.1,1266.9 898.7,1264.7 899.3,1265.2 899.9,1266.1 900.5,1263.9 901.1,1263.2 901.7,1263.6 902.3,1261.1 902.9,1261.2 903.5,1261.4 904.1,1261.4 904.7,1259.7 905.3,1259.6 905.9,1259.8 906.5,1259.9 907.1,1260.2 907.7,1259.1 908.3,1259.1 908.9,1257.6 909.5,1257.8 910.1,1258.8 910.7,1256.7 911.3,1258.3 911.9,1256.8 912.5,1256.7 913.1,1258.0 913.7,1255.9 914.3,1255.2 914.9,1255.3 915.5,1255.5 916.1,1258.2 916.7,1252.6 917.3,1254.9 917.9,1254.7 918.5,1256.4 919.1,1255.1 919.7,1253.0 920.3,1256.3 920.9,1253.6 921.5,1254.7 922.1,1252.9 922.7,1252.7 923.3,1252.6 923.9,1253.4 924.5,1253.2 925.1,1251.4 925.7,1252.8 926.3,1251.7 926.9,1252.2 927.5,1252.0 928.1,1252.6 928.7,1250.9 929.3,1251.5 929.9,1251.8 930.5,1251.4 931.1,1250.5 931.7,1253.2 932.3,1251.0 932.9,1252.3 933.5,1251.3 934.1,1252.4 934.7,1248.5 935.3,1253.0 935.9,1250.5 936.5,1249.3 937.1,1250.6 937.7,1252.1 938.3,1249.8 938.9,1247.7 939.5,1248.5 940.1,1249.9 940.7,1246.6 941.3,1247.6 941.9,1246.8 942.5,1249.5 943.1,1247.2 943.7,1248.7 944.3,1246.8 944.9,1246.8 945.5,1248.9 946.1,1248.5 946.7,1246.0 947.3,1249.1 947.9,1248.9 948.5,1247.4 949.1,1248.6 949.7,1248.8 950.3,1247.9 950.9,1247.7 951.5,1247.3 952.1,1247.7 952.7,1246.2 953.3,1247.6 953.9,1246.1 954.5,1247.7 955.1,1247.3 955.7,1246.3 956.3,1248.7 956.9,1250.3 957.5,1249.6 958.1,1246.8 958.7,1249.6 959.3,1248.4 959.9,1248.1 960.5,1247.4 961.1,1247.7 961.7,1248.5 962.3,1247.4 962.9,1246.7 963.5,1246.1 964.1,1246.6 964.7,1247.7 965.3,1249.2 965.9,1246.1 966.5,1247.5 967.1,1247.7 967.7,1246.9 968.3,1248.1 968.9,1248.5 969.5,1245.9 970.1,1246.7 970.7,1249.2 971.3,1248.6 971.9,1249.1 972.5,1248.1 973.1,1248.6 973.7,1249.6 974.3,1248.7 974.9,1249.1 975.5,1250.7 976.1,1251.8 976.7,1249.8 977.3,1252.2 977.9,1252.2 978.5,1250.8 979.1,1251.8 979.7,1252.4 980.3,1253.1 980.9,1252.7 981.5,1250.5 982.1,1250.5 982.7,1253.2 983.3,1252.4 983.9,1253.0 984.5,1253.0 985.1,1254.2 985.7,1251.3 986.3,1254.3 986.9,1252.7 987.5,1254.9 988.1,1255.8 988.7,1252.7 989.3,1255.0 989.9,1254.5 990.5,1254.9 991.1,1255.5 991.7,1254.3 992.3,1254.8 992.9,1256.9 993.5,1257.0 994.1,1255.9 994.7,1255.5 995.3,1259.8 995.9,1258.5 996.5,1257.6 997.1,1256.5 997.7,1256.7 998.3,1257.3 998.9,1256.5 999.5,1259.6 1000.1,1258.0 1000.7,1258.9 1001.3,1257.8 1001.9,1258.6 1002.5,1259.1 1003.1,1260.8 1003.7,1260.7 1004.3,1261.7 1004.9,1263.0 1005.5,1263.2 1006.1,1264.8 1006.7,1263.2 1007.3,1262.4 1007.9,1263.9 1008.5,1265.9 1009.1,1263.9 1009.7,1264.6 1010.3,1263.6 1010.9,1264.5 1011.5,1264.1 1012.1,1262.9 1012.7,1263.8 1013.3,1264.8 1013.9,1265.3 1014.5,1265.3 1015.1,1265.0 1015.7,1264.1 1016.3,1264.1 1016.9,1265.8 1017.5,1264.0 1018.1,1265.2 1018.7,1263.7 1019.3,1265.4 1019.9,1265.4 1020.5,1265.3 1021.1,1267.7 1021.7,1266.2 1022.3,1267.2 1022.9,1266.8 1023.5,1266.8 1024.1,1269.1 1024.7,1267.1 1025.3,1268.1 1025.9,1266.4 1026.5,1267.9 1027.1,1268.5 1027.7,1269.0 1028.3,1269.8 1028.9,1270.6 1029.5,1272.2 1030.1,1271.1 1030.7,1271.2 1031.3,1271.3 1031.9,1274.2 1032.5,1273.2 1033.1,1271.8 1033.7,1271.7 1034.3,1270.1 1034.9,1271.0 1035.5,1271.7 1036.1,1272.1 1036.7,1271.2 1037.3,1271.6 1037.9,1273.5 1038.5,1273.8 1039.1,1271.6 1039.7,1274.4 1040.3,1275.8 1040.9,1273.8 1041.5,1275.1 1042.1,1273.3 1042.7,1275.5 1043.3,1273.7 1043.9,1273.4 1044.5,1274.5 1045.1,1277.9 1045.7,1275.0 1046.3,1273.9 1046.9,1275.1 1047.5,1275.1 1048.1,1277.0 1048.7,1273.9 1049.3,1273.4 1049.9,1274.9 1050.5,1275.2 1051.1,1275.3 1051.7,1276.4 1052.3,1274.3 1052.9,1275.4 1053.5,1276.5 1054.1,1277.5 1054.7,1277.9 1055.3,1277.2 1055.9,1277.1 1056.5,1279.5 1057.1,1280.0 1057.7,1282.2 1058.3,1279.0 1058.9,1281.3 1059.5,1278.4 1060.1,1278.7 1060.7,1278.6 1061.3,1278.8 1061.9,1278.4 1062.5,1278.6 1063.1,1279.1 1063.7,1278.6 1064.3,1279.4 1064.9,1279.0 1065.5,1279.5 1066.1,1281.0 1066.7,1280.0 1067.3,1280.0 1067.9,1279.9 1068.5,1279.7 1069.1,1280.2 1069.7,1279.1 1070.3,1281.4 1070.9,1281.7 1071.5,1281.5 1072.1,1279.5 1072.7,1278.3 1073.3,1279.7 1073.9,1280.4 1074.5,1281.0 1075.1,1280.3 1075.7,1280.0 1076.3,1282.1 1076.9,1280.2 1077.5,1282.6 1078.1,1282.2 1078.7,1279.9 1079.3,1282.4 1079.9,1282.1 1080.5,1281.6 1081.1,1281.0 1081.7,1281.5 1082.3,1283.4 1082.9,1282.4 1083.5,1283.4 1084.1,1282.3 1084.7,1282.7 1085.3,1283.3 1085.9,1281.8 1086.5,1281.7 1087.1,1283.9 1087.7,1284.0 1088.3,1283.4 1088.9,1285.0 1089.5,1286.1 1090.1,1287.9 1090.7,1285.0 1091.3,1287.2 1091.9,1289.2 1092.5,1287.4 1093.1,1289.4 1093.7,1285.1 1094.3,1289.6 1094.9,1288.1 1095.5,1286.4 1096.1,1289.3 1096.7,1289.7 1097.3,1289.7 1097.9,1289.9 1098.5,1288.5 1099.1,1288.0 1099.7,1288.1 1100.3,1289.2 1100.9,1289.7 1101.5,1289.4 1102.1,1290.4 1102.7,1291.2 1103.3,1290.8 1103.9,1293.4 1104.5,1292.8 1105.1,1289.8 1105.7,1289.7 1106.3,1289.0 1106.9,1289.1 1107.5,1290.6 1108.1,1289.6 1108.7,1289.6 1109.3,1290.2 1109.9,1292.2 1110.5,1291.6 1111.1,1292.1 1111.7,1293.8 1112.3,1293.5 1112.9,1293.8 1113.5,1294.6 1114.1,1293.0 1114.7,1294.7 1115.3,1294.0 1115.9,1295.2 1116.5,1295.6 1117.1,1293.3 1117.7,1296.1 1118.3,1293.8 1118.9,1296.5 1119.5,1295.1 1120.1,1293.8 1120.7,1293.4 1121.3,1294.5 1121.9,1294.1 1122.5,1293.6 1123.1,1295.1 1123.7,1293.1 1124.3,1294.5 1124.9,1294.7 1125.5,1292.8 1126.1,1295.8 1126.7,1294.2 1127.3,1293.1 1127.9,1295.5 1128.5,1296.3 1129.1,1297.6 1129.7,1295.9 1130.3,1298.1 1130.9,1298.2 1131.5,1297.2 1132.1,1297.1 1132.7,1296.0 1133.3,1294.6 1133.9,1295.5 1134.5,1295.6 1135.1,1294.8 1135.7,1294.0 1136.3,1292.5 1136.9,1295.2 1137.5,1295.2 1138.1,1293.4 1138.7,1294.5 1139.3,1295.0 1139.9,1294.0 1140.5,1295.1 1141.1,1295.2 1141.7,1292.8 1142.3,1293.8 1142.9,1295.1 1143.5,1295.7 1144.1,1296.9 1144.7,1293.4 1145.3,1295.5 1145.9,1296.5 1146.5,1297.2 1147.1,1297.8 1147.7,1295.3 1148.3,1295.5 1148.9,1294.7 1149.5,1297.1 1150.1,1294.9 1150.7,1297.5 1151.3,1296.9 1151.9,1296.5 1152.5,1293.7 1153.1,1295.3 1153.7,1297.0 1154.3,1294.6 1154.9,1295.6 1155.5,1296.1 1156.1,1297.7 1156.7,1297.5 1157.3,1297.9 1157.9,1297.6 1158.5,1298.3 1159.1,1298.1 1159.7,1299.0 1160.3,1298.6 1160.9,1300.2 1161.5,1297.2 1162.1,1300.6 1162.7,1299.0 1163.3,1300.4 1163.9,1299.4 1164.5,1300.5 1165.1,1301.9 1165.6,1299.6"/>
<line x1="871.6" y1="944.5" x2="871.6" y2="956.5" stroke="#ff0000" stroke-width="4.4" stroke-linecap="round"/>
<line x1="1166.6" y1="575" x2="1166.6" y2="582.5" stroke="#0000ff" stroke-width="3.4" stroke-linecap="round"/>
<line class="d" x1="271.5" y1="65.8" x2="271.5" y2="197.9"/>
<line class="d" x1="449.2" y1="234" x2="449.2" y2="366.5"/>
<line class="d" x1="516.8" y1="196" x2="516.8" y2="328"/>
<line class="d" x1="977.5" y1="137" x2="977.5" y2="269"/>
<line class="d" x1="639.7" y1="560.9" x2="639.7" y2="693.5"/>
<line class="d" x1="955.3" y1="448.8" x2="955.3" y2="582"/>
<line class="d" x1="337" y1="927.5" x2="337" y2="1060.6"/>
<line class="d" x1="451.4" y1="878" x2="451.4" y2="1011"/>
<line class="d" x1="530.8" y1="875.5" x2="530.8" y2="1008"/>
<line class="d" x1="949.5" y1="829" x2="949.5" y2="962"/>
<line class="d" x1="628.7" y1="1213" x2="628.7" y2="1344.6"/>
<line class="d" x1="952.7" y1="1216" x2="952.7" y2="1348.2"/>
<rect x="148.0" y="36.0" width="1027.3" height="1547.0" fill="none" stroke="#000" stroke-width="4" stroke-linejoin="round"/>
<line x1="148.0" y1="422.75" x2="1175.3" y2="422.75" stroke="#000" stroke-width="3.8"/>
<line x1="148.0" y1="809.50" x2="1175.3" y2="809.50" stroke="#000" stroke-width="3.8"/>
<line x1="148.0" y1="1196.25" x2="1175.3" y2="1196.25" stroke="#000" stroke-width="3.8"/>
<line x1="212.2" y1="1583.0" x2="212.2" y2="1573.0" stroke="#000" stroke-width="3.4" stroke-linecap="round"/>
<line x1="276.4" y1="1583.0" x2="276.4" y2="1563.5" stroke="#000" stroke-width="3.4" stroke-linecap="round"/>
<line x1="340.6" y1="1583.0" x2="340.6" y2="1573.0" stroke="#000" stroke-width="3.4" stroke-linecap="round"/>
<line x1="404.8" y1="1583.0" x2="404.8" y2="1563.5" stroke="#000" stroke-width="3.4" stroke-linecap="round"/>
<line x1="469.0" y1="1583.0" x2="469.0" y2="1573.0" stroke="#000" stroke-width="3.4" stroke-linecap="round"/>
<line x1="533.2" y1="1583.0" x2="533.2" y2="1563.5" stroke="#000" stroke-width="3.4" stroke-linecap="round"/>
<line x1="597.4" y1="1583.0" x2="597.4" y2="1573.0" stroke="#000" stroke-width="3.4" stroke-linecap="round"/>
<line x1="661.6" y1="1583.0" x2="661.6" y2="1563.5" stroke="#000" stroke-width="3.4" stroke-linecap="round"/>
<line x1="725.9" y1="1583.0" x2="725.9" y2="1573.0" stroke="#000" stroke-width="3.4" stroke-linecap="round"/>
<line x1="790.1" y1="1583.0" x2="790.1" y2="1563.5" stroke="#000" stroke-width="3.4" stroke-linecap="round"/>
<line x1="854.3" y1="1583.0" x2="854.3" y2="1573.0" stroke="#000" stroke-width="3.4" stroke-linecap="round"/>
<line x1="918.5" y1="1583.0" x2="918.5" y2="1563.5" stroke="#000" stroke-width="3.4" stroke-linecap="round"/>
<line x1="982.7" y1="1583.0" x2="982.7" y2="1573.0" stroke="#000" stroke-width="3.4" stroke-linecap="round"/>
<line x1="1046.9" y1="1583.0" x2="1046.9" y2="1563.5" stroke="#000" stroke-width="3.4" stroke-linecap="round"/>
<line x1="1111.1" y1="1583.0" x2="1111.1" y2="1573.0" stroke="#000" stroke-width="3.4" stroke-linecap="round"/>
<text class="tk" x="148.0" y="1649.3">100</text>
<text class="tk" x="276.4" y="1649.3">200</text>
<text class="tk" x="404.8" y="1649.3">300</text>
<text class="tk" x="533.2" y="1649.3">400</text>
<text class="tk" x="661.6" y="1649.3">500</text>
<text class="tk" x="790.1" y="1649.3">600</text>
<text class="tk" x="918.5" y="1649.3">700</text>
<text class="tk" x="1046.9" y="1649.3">800</text>
<text class="tk" x="1175.3" y="1649.3">900</text>
<text class="pk" x="284.6" y="94.5" xml:space="preserve">200 <tspan font-size="25.5" dy="-20">o</tspan><tspan dy="20">C</tspan></text>
<text class="pk" x="379.9" y="238.5" xml:space="preserve">337<tspan font-size="25.5" dy="-20">o</tspan><tspan dy="20">C</tspan></text>
<text class="pk" x="488.7" y="178.4" xml:space="preserve">386 <tspan font-size="25.5" dy="-20">o</tspan><tspan dy="20">C</tspan></text>
<text class="pk" x="927.2" y="119.7" xml:space="preserve">743 <tspan font-size="25.5" dy="-20">o</tspan><tspan dy="20">C</tspan></text>
<text class="pk" x="596.5" y="545.5" xml:space="preserve">480 <tspan font-size="25.5" dy="-20">o</tspan><tspan dy="20">C</tspan></text>
<text class="pk" x="879.5" y="587.2" xml:space="preserve">728 <tspan font-size="25.5" dy="-20">o</tspan><tspan dy="20">C</tspan></text>
<text class="pk" x="263.0" y="941.1" xml:space="preserve">240 <tspan font-size="25.5" dy="-20">o</tspan><tspan dy="20">C</tspan></text>
<text class="pk" x="391.5" y="871.9" xml:space="preserve">336 <tspan font-size="25.5" dy="-20">o</tspan><tspan dy="20">C</tspan></text>
<text class="pk" x="532.9" y="912.8" xml:space="preserve">400 <tspan font-size="25.5" dy="-20">o</tspan><tspan dy="20">C</tspan></text>
<text class="pk" x="870.0" y="1020.4" xml:space="preserve">722 <tspan font-size="25.5" dy="-20">o</tspan><tspan dy="20">C</tspan></text>
<text class="pk" x="577.7" y="1372.6" xml:space="preserve">478 <tspan font-size="25.5" dy="-20">o</tspan><tspan dy="20">C</tspan></text>
<text class="pk" x="907.0" y="1392.1" xml:space="preserve">725 <tspan font-size="25.5" dy="-20">o</tspan><tspan dy="20">C</tspan></text>
<text class="big" style="font-size:69.2px" x="843.5" y="383.2">Ce-Mn-NC</text>
<text class="big" x="886.5" y="758.5">CeO<tspan font-size="41" dy="24.5">2</tspan><tspan dy="-24.5">-NC</tspan></text>
<text class="big" style="font-size:69px" x="846.3" y="1163.8">Ce-Mn-NF</text>
<text class="big" x="898" y="1517.9">CeO<tspan font-size="41" dy="24.5">2</tspan><tspan dy="-24.5">-NF</tspan></text>
<text class="ttl" x="372.5" y="1734.3" xml:space="preserve">Temperature (<tspan font-size="51" dy="-39">o</tspan><tspan dy="39" dx="1">C)</tspan></text>
<text class="ttl" style="font-size:82.5px" transform="translate(97,1053.3) rotate(-90)">Intensity (a.u.)</text>
</svg></body></html>
